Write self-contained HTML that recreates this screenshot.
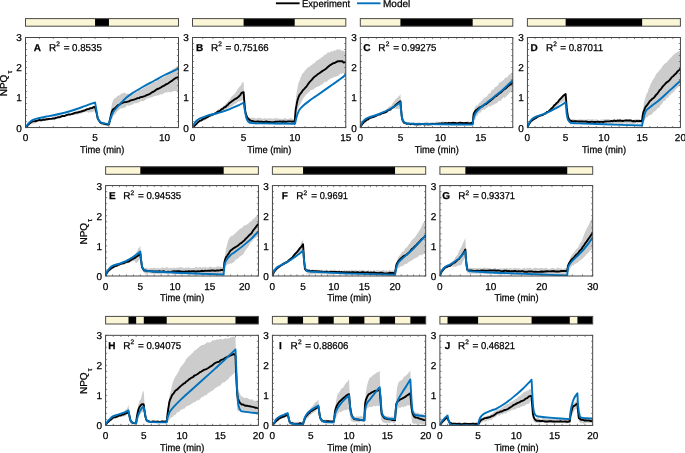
<!DOCTYPE html><html><head><meta charset="utf-8"><style>html,body{margin:0;padding:0;background:#fff;width:685px;height:453px;overflow:hidden}svg{display:block}text{font-family:"Liberation Sans", sans-serif;fill:#000;stroke:#000;stroke-width:0.25px;text-rendering:geometricPrecision}svg{will-change:transform;filter:blur(0.3px)}</style></head><body>
<svg width="685" height="453" viewBox="0 0 685 453">
<rect width="685" height="453" fill="#fff"/>
<line x1="275.9" y1="3.3" x2="299.6" y2="3.3" stroke="#000" stroke-width="1.9"/>
<text x="302.02" y="7" font-size="10" textLength="48.05" lengthAdjust="spacingAndGlyphs">Experiment</text>
<line x1="357" y1="3.3" x2="380.5" y2="3.3" stroke="#0072bd" stroke-width="1.9"/>
<text x="382.97" y="7" font-size="10" textLength="27.4" lengthAdjust="spacingAndGlyphs">Model</text>
<rect x="25.5" y="18.6" width="153" height="7.6" fill="#faf6d6"/>
<rect x="95.05" y="18.6" width="13.91" height="7.6" fill="#000"/>
<rect x="25.5" y="18.6" width="153" height="7.6" fill="none" stroke="#4a4a4a" stroke-width="1"/>
<clipPath id="cA"><rect x="25.5" y="37.5" width="153" height="90.1"/></clipPath>
<g clip-path="url(#cA)">
<path d="M25.5,127.6L26.07,127.66L26.76,126.78L27.56,126.55L28.46,125.63L29.44,124.99L30.49,125.18L31.59,124.6L32.72,122.68L33.87,122.88L35.03,122.28L36.18,120.52L37.3,120.75L38.38,119.71L39.41,119.83L40.4,119.23L41.4,119.66L42.39,118.68L43.38,118.1L44.38,118.43L45.37,117.93L46.36,117.88L47.36,118.65L48.35,117.48L49.34,117.6L50.34,117.89L51.33,118.15L52.32,116.73L53.32,117.13L54.31,116.56L55.31,116.11L56.3,116.15L57.29,115.64L58.29,116.22L59.28,115.4L60.27,115.73L61.27,114.78L62.26,114.65L63.25,115.6L64.25,115.32L65.24,114.97L66.23,113.62L67.23,114.18L68.22,113.66L69.21,113.91L70.21,113.36L71.2,113.3L72.19,113.1L73.19,112.5L74.18,112.25L75.18,111.51L76.17,111.59L77.16,110.95L78.16,110.79L79.15,110.31L80.14,110.51L81.14,110.99L82.16,109.63L83.25,109.15L84.37,108.89L85.52,109.02L86.67,108.43L87.83,108.81L88.96,107.51L90.06,107.53L91.1,107.61L92.09,107.62L92.98,106.13L93.79,105.66L94.48,106.78L95.05,105.98L95.05,105.98L95.72,108.81L96.69,113.97L97.83,118.21L98.71,119.84L99.65,120.51L100.73,121.41L102,123.48L102.91,122.98L103.99,124.07L105.15,123.19L106.31,123.85L107.39,123.05L108.3,122.93L108.95,123.7L108.95,123.7L109.77,117.91L110.93,109.17L112.01,103.86L112.97,100.68L114.38,98.32L115.12,98.46L116.01,97.48L117,96.43L118.06,95.42L119.11,95.46L120.13,95.08L121.06,93.41L122.25,93.83L123.42,92.64L124.52,92.65L125.55,93.45L126.48,93.42L127.79,93.84L128.87,94.44L129.82,95.02L130.45,95.3L132.04,94.38L132.71,93.52L133.51,93.71L134.4,93.28L135.39,92.25L136.44,92.33L137.53,91.56L138.66,89.85L139.79,89.85L140.91,89.13L141.99,89.29L143.03,88.08L144.04,87.27L145.05,87.55L146.06,86.1L147.07,85.53L148.09,85.85L149.1,84.45L150.12,84.16L151.13,83.3L152.14,83.25L153.15,82.18L154.16,81.59L155.18,82.12L156.24,81.5L157.31,80.02L158.39,79.03L159.47,79.54L160.53,78.68L161.56,77.92L162.55,77.79L163.48,77.18L164.35,76.74L165.15,76.14L166.61,74.7L167.77,74.08L168.76,72.93L169.69,71.36L170.71,71.55L171.85,69.84L173.04,68.72L174.19,68.55L175.25,67.96L176.14,66.48L177.66,66.33L178.5,65.43 L178.5,91.26L177.88,90.95L177.05,91.1L176.05,90.98L174.95,90.9L173.81,91.32L172.68,91.18L171.63,92.32L170.71,91.91L169.54,92.39L168.59,91.76L167.66,91.8L166.57,92.87L165.15,92.41L164.35,92.71L163.48,93.63L162.55,93.9L161.56,94.71L160.53,94.08L159.47,94.63L158.39,95.39L157.31,95.4L156.24,95.39L155.18,96.14L154.16,96.06L153.15,96.72L152.14,97.27L151.13,97.56L150.12,97.66L149.1,97.78L148.09,98.81L147.07,98.6L146.06,99.26L145.05,100L144.04,100.68L143.03,101.2L142.03,101.12L141.03,100.97L140.03,101.57L139.03,102.58L138.03,102.62L137.03,103.18L136.03,103.28L135.04,103.29L134.04,103.55L133.04,104.34L132.04,104.75L131.03,105.1L129.98,105.16L128.91,106.11L127.84,105.29L126.77,105.43L125.71,107.13L124.68,107.39L123.69,107.74L122.75,108.23L121.87,108.7L121.06,107.96L119.75,109.25L118.64,110.2L117.67,110.97L116.78,112.33L115.93,113.35L115.07,114.76L114.02,114.99L112.99,116.95L112.03,119.52L111.18,119.83L110.48,121.13L109.43,123.23L108.95,125.2L108.95,125.2L108.3,124.74L107.39,125.69L106.31,124.74L105.15,125.15L103.99,125.57L102.91,125.15L102,124.17L100.73,123.74L99.65,121.97L98.71,121.46L97.83,119.73L96.69,116.54L95.72,112.94L95.05,111.38L95.05,111.38L94.48,111.6L93.79,111.53L92.98,111.44L92.09,112.11L91.1,112.45L90.06,111.74L88.96,113L87.83,112.32L86.67,112L85.52,112.18L84.37,112.32L83.25,112.84L82.16,112.7L81.14,114.17L80.14,113.19L79.15,114.16L78.16,113.89L77.16,114.86L76.17,114.81L75.18,114.84L74.18,115.12L73.19,114.97L72.19,114.95L71.2,114.89L70.21,115.23L69.21,116.21L68.22,115.35L67.23,115.51L66.23,116.48L65.24,115.84L64.25,116.2L63.25,116.29L62.26,117.9L61.27,117.86L60.27,116.91L59.28,117.87L58.29,118.05L57.29,118.24L56.3,118.54L55.31,118.85L54.31,118.26L53.32,119.2L52.32,119.63L51.33,119.48L50.34,118.95L49.34,119.35L48.35,119.26L47.36,120.21L46.36,120.51L45.37,119.7L44.38,119.92L43.38,121.04L42.39,120.75L41.4,121.6L40.4,121.71L39.41,121.67L38.38,121.36L37.3,122.1L36.18,123.02L35.03,123.74L33.87,123.21L32.72,124.34L31.59,124.26L30.49,125.52L29.44,126.03L28.46,126.82L27.56,126.35L26.76,127.13L26.07,127.82L25.5,127.6 Z" fill="#cccccc"/>
<path d="M25.5,127.6L26.02,126.99L26.89,126.38L28.19,124.53L29.67,123.45L31.02,122.47L32.45,121.4L34.15,121.41L35.93,120.99L37.45,120.66L39.41,119.82L40.58,120.21L41.94,120.21L43.41,119.51L44.92,119.9L46.36,119.24L47.64,119.25L48.81,119.04L50.04,118.83L51.48,118.89L53.32,118.37L54.43,118.67L55.65,117.85L56.98,117.7L58.38,117.19L59.84,117.24L61.33,116.38L62.84,115.84L64.33,116.07L65.81,115.49L67.23,114.94L68.62,114.39L70.01,114.47L71.4,114.16L72.79,113.77L74.18,113.16L75.57,112.71L76.96,112.61L78.35,112.26L79.75,111.85L81.14,111.49L82.59,111.01L84.14,110.77L85.75,109.95L87.37,109.09L88.96,108.97L90.48,108.22L91.9,108.17L93.15,107.37L94.22,106.96L95.05,106.88L95.05,106.88L95.89,110.07L96.85,114.07L97.3,116.57L97.83,118.49L98.9,120.27L100.33,122.45L101.5,123.26L102.81,123.37L104.23,123.7L105.92,124.3L107.7,124.53L108.95,124.6L108.95,124.6L109.62,121.06L110.48,117.31L111.2,113.95L112.01,111.3L112.88,109.59L114.38,108.51L115.46,107.7L116.8,106.33L118.27,105.05L119.73,104.52L121.06,103.43L122.5,102.97L123.84,102.23L125.14,102.09L126.48,101.94L127.73,101.56L128.91,101.31L130.27,100.54L132.04,100.05L133.19,99.86L134.54,99.32L136.01,98.92L137.54,98.14L139.07,98.14L140.54,97.09L141.88,97.05L143.03,96.59L144.8,96.11L146.15,95.37L147.33,94.91L148.6,94.52L149.99,93.84L151.39,92.83L152.78,91.86L154.16,91.33L155.52,90.25L156.87,89.24L158.22,88.76L159.58,88.15L160.96,87.46L162.36,86.49L163.75,85.87L165.15,84.92L166.54,84.09L167.94,83.52L169.33,82.53L170.71,81.52L172.15,80.66L173.62,79.38L175,78.45L176.14,77.76L177.66,77.41L178.5,76.84" fill="none" stroke="#000" stroke-width="1.9" stroke-linejoin="round"/>
<path d="M25.5,127.6C25.73,127.25 26.43,126.15 26.89,125.5C27.35,124.85 27.82,124.25 28.28,123.7C28.75,123.15 28.98,122.79 29.67,122.19C30.37,121.59 31.41,120.64 32.45,120.09C33.5,119.54 34.77,119.24 35.93,118.89C37.09,118.54 37.67,118.39 39.41,117.99C41.15,117.59 44.05,116.94 46.36,116.49C48.68,116.04 49.84,116.04 53.32,115.29C56.8,114.54 62.59,113.28 67.23,111.98C71.86,110.68 76.5,109.08 81.14,107.48C85.77,105.88 92.73,103.22 95.05,102.37L95.05,102.37C95.35,104.07 96.39,109.88 96.85,112.58C97.32,115.29 97.25,117.04 97.83,118.59C98.41,120.14 99.26,121.09 100.33,121.89C101.4,122.69 102.79,123.04 104.23,123.4C105.66,123.75 108.17,123.9 108.95,124L108.95,124C109.21,123.09 109.91,120.34 110.48,118.59C111.06,116.84 111.78,114.84 112.43,113.48C113.08,112.13 112.94,112.23 114.38,110.48C115.82,108.73 119.04,105.13 121.06,102.97C123.07,100.82 124.65,99.17 126.48,97.57C128.31,95.96 129.28,95.16 132.04,93.36C134.8,91.56 139.35,88.86 143.03,86.75C146.72,84.65 150.47,82.75 154.16,80.75C157.84,78.75 161.48,76.59 165.15,74.74C168.81,72.89 173.91,70.64 176.14,69.64C178.36,68.63 178.11,68.88 178.5,68.73" fill="none" stroke="#0072bd" stroke-width="1.9" stroke-linejoin="round"/>
</g>
<rect x="25.5" y="37.5" width="153" height="90.1" fill="none" stroke="#333333" stroke-width="0.9"/>
<path d="M25.5,127.6v-1.6M25.5,37.5v1.6M39.41,127.6v-1.6M39.41,37.5v1.6M53.32,127.6v-1.6M53.32,37.5v1.6M67.23,127.6v-1.6M67.23,37.5v1.6M81.14,127.6v-1.6M81.14,37.5v1.6M95.05,127.6v-1.6M95.05,37.5v1.6M108.95,127.6v-1.6M108.95,37.5v1.6M122.86,127.6v-1.6M122.86,37.5v1.6M136.77,127.6v-1.6M136.77,37.5v1.6M150.68,127.6v-1.6M150.68,37.5v1.6M164.59,127.6v-1.6M164.59,37.5v1.6M178.5,127.6v-1.6M178.5,37.5v1.6M25.5,127.6h1.6M178.5,127.6h-1.6M25.5,121.59h1.6M178.5,121.59h-1.6M25.5,115.59h1.6M178.5,115.59h-1.6M25.5,109.58h1.6M178.5,109.58h-1.6M25.5,103.57h1.6M178.5,103.57h-1.6M25.5,97.57h1.6M178.5,97.57h-1.6M25.5,91.56h1.6M178.5,91.56h-1.6M25.5,85.55h1.6M178.5,85.55h-1.6M25.5,79.55h1.6M178.5,79.55h-1.6M25.5,73.54h1.6M178.5,73.54h-1.6M25.5,67.53h1.6M178.5,67.53h-1.6M25.5,61.53h1.6M178.5,61.53h-1.6M25.5,55.52h1.6M178.5,55.52h-1.6M25.5,49.51h1.6M178.5,49.51h-1.6M25.5,43.51h1.6M178.5,43.51h-1.6M25.5,37.5h1.6M178.5,37.5h-1.6" stroke="#555" stroke-width="0.7" fill="none"/>
<text x="25.5" y="141.1" font-size="10" text-anchor="middle">0</text>
<text x="95.05" y="141.1" font-size="10" text-anchor="middle">5</text>
<text x="164.59" y="141.1" font-size="10" text-anchor="middle">10</text>
<text x="21.9" y="131.5" font-size="10" text-anchor="end">0</text>
<text x="21.9" y="101.47" font-size="10" text-anchor="end">1</text>
<text x="21.9" y="71.43" font-size="10" text-anchor="end">2</text>
<text x="21.9" y="41.4" font-size="10" text-anchor="end">3</text>
<text x="80.09" y="153" font-size="10" textLength="44.18" lengthAdjust="spacingAndGlyphs">Time (min)</text>
<text x="33.85" y="50.9" font-size="10" font-weight="bold">A</text>
<text x="48.98" y="50.9" font-size="10">R</text>
<text x="56.37" y="46.4" font-size="6.6">2</text>
<text x="63.71" y="50.9" font-size="10">=</text>
<text x="72.12" y="50.9" font-size="10" textLength="29.69" lengthAdjust="spacingAndGlyphs">0.8535</text>
<g transform="translate(6.7,85.45) rotate(-90)"><text x="0" y="0" font-size="10" text-anchor="middle">NPQ</text><text x="11.9" y="5.0" font-size="7">&#964;</text></g>
<rect x="192.5" y="18.6" width="153.3" height="7.6" fill="#faf6d6"/>
<rect x="243.6" y="18.6" width="51.1" height="7.6" fill="#000"/>
<rect x="192.5" y="18.6" width="153.3" height="7.6" fill="none" stroke="#4a4a4a" stroke-width="1"/>
<clipPath id="cB"><rect x="192.5" y="37.5" width="153.3" height="90.1"/></clipPath>
<g clip-path="url(#cB)">
<path d="M192.5,127.6L193.14,126.34L193.99,126.18L195.01,124.83L196.14,123.11L197.33,122.81L198.52,121.65L199.65,119.59L200.63,119.75L201.65,119.08L202.69,118.26L203.74,117.67L204.79,118.26L205.83,117.35L206.85,116.76L207.83,116.21L208.9,116.05L209.92,114.92L210.91,113.79L211.9,114.05L212.9,113.21L213.92,113.22L214.98,112.32L215.96,111.13L216.97,111.36L218.01,109.58L219.05,108.91L220.1,109.46L221.14,107.48L222.17,107.58L223.16,106.17L224.26,105.19L225.34,104.82L226.4,103.12L227.45,101.98L228.49,100.54L229.55,100.1L230.62,98.09L231.59,96.6L232.6,95.77L233.63,94.66L234.65,93.96L235.65,92.08L236.6,91.02L237.49,89.29L238.29,88.29L239.67,86.55L240.85,85.45L241.81,83.36L242.58,82.35L243.36,82.36L243.6,81.95L243.6,81.95L244.21,93.11L245.13,106.34L246.12,113.04L247.69,114.94L248.1,116.93L248.18,117.2L248.36,116.98L249.07,117.42L250.75,117.69L253.82,117.77L254.44,118.09L255.13,118.34L255.88,118.58L256.68,118.77L257.55,117.83L258.46,117.8L259.42,118.14L260.43,117.87L261.47,118.47L262.55,118.63L263.67,118.48L264.82,117.76L265.99,119.03L267.19,118.35L268.4,118.75L269.63,117.98L270.88,118.62L272.13,118.67L273.38,118.57L274.64,118.38L275.9,118.04L277.15,118.68L278.39,117.95L279.62,119.06L280.84,118.83L282.03,119.1L283.2,119.09L284.35,118.09L285.46,118.18L286.54,119L287.58,119L288.58,118.66L289.54,118.18L290.45,118.08L291.31,118.18L292.11,118.42L292.86,119.1L293.54,118.73L294.15,119.04L294.7,118.59L294.7,118.59L295.08,110.48L295.72,100.47L296.56,93L297.77,85.93L298.63,82.2L299.64,80.72L300.71,77.25L301.75,75.05L302.72,73.21L303.68,72.61L304.67,71.08L305.74,69.81L306.68,68.79L307.67,67.42L308.7,67.04L309.73,66.83L310.75,65.19L311.73,64.96L312.71,64L313.69,63.03L314.66,63.35L315.65,61.42L316.65,60.8L317.65,60.26L318.65,59.43L319.66,58.74L320.66,58.38L321.66,57.12L322.67,57.1L323.67,55.66L324.67,54.74L325.67,54.4L326.65,53.66L327.63,52.57L328.61,52.21L329.59,52.91L330.57,51.48L331.57,51.25L332.56,51.61L333.56,50.68L334.57,50.48L335.58,50.45L336.6,49.63L337.62,49.03L338.64,50.01L339.67,49.34L340.69,49.82L341.79,51L342.98,50.39L344.12,51.29L345.11,51.26L345.8,52.22 L345.8,73.24L345.04,73.85L343.95,73.75L342.67,73.12L341.3,74.13L340.34,73.27L339.3,74.67L338.21,75.82L337.08,76.06L335.96,76.79L334.86,76.79L333.79,77.07L332.71,78.23L331.64,78.07L330.56,78.53L329.49,79.39L328.43,79.63L327.37,81.14L326.31,81.99L325.26,81.78L324.21,82.33L323.15,83.44L322.09,84.77L321.02,84.39L319.95,85.88L318.88,86.04L317.8,86.85L316.73,87.01L315.65,87.8L314.58,88.19L313.5,89.52L312.43,89.86L311.35,90.09L310.28,90.3L309.21,91.97L308.14,92.72L307.05,93.97L305.96,94.42L304.89,96.35L303.86,97.38L302.88,99.02L301.71,101.01L300.55,104.11L299.46,105.26L298.51,107.69L297.77,109.83L297.06,111.17L296.74,113.16L295.66,117.95L294.7,124L294.7,124L294.15,124.31L293.54,124.62L292.85,123.33L292.11,123.84L291.3,124.3L290.44,124.7L289.53,123.35L288.57,123.38L287.56,123.56L286.52,124.05L285.43,123.31L284.31,124.47L283.17,123.43L281.99,123.8L280.79,124.71L279.57,124.74L278.34,124.54L277.09,124.66L275.84,124.75L274.58,124.8L273.32,123.92L272.06,123.35L270.8,123.79L269.56,124.67L268.33,124.3L267.11,123.87L265.91,123.59L264.74,124.41L263.6,124.44L262.48,124.36L261.4,123.41L260.36,124.11L259.36,123.62L258.4,124.38L257.5,123.7L256.64,124.71L255.84,124.59L255.11,124.25L254.43,123.82L253.82,124.5L250.48,123.97L249.1,124.48L248.89,124.18L249.03,122.82L248.71,123.81L247.5,122.54L246.51,121.42L245.64,119.26L244.43,108.69L243.6,99.97L243.6,99.97L242.91,100.25L241.97,100.37L240.84,101.26L239.58,101.58L238.29,101.49L237.44,102.44L236.53,103.09L235.57,103.86L234.59,104.33L233.58,104.69L232.58,105.75L231.59,106.38L230.62,107.03L229.55,107.32L228.49,108.46L227.45,108.16L226.4,109.66L225.34,110.6L224.26,110.89L223.16,110.94L222.17,111.56L221.14,112.31L220.1,112.82L219.05,112.78L218.01,112.99L216.97,114.55L215.96,114.68L214.98,114.6L213.92,115.54L212.9,116.25L211.9,116.19L210.91,116.98L209.92,117.26L208.9,117.49L207.83,118.29L206.85,119.25L205.83,119.64L204.79,120.28L203.74,120.8L202.69,121.18L201.65,121.12L200.63,121.24L199.65,122.29L198.52,122.39L197.33,123.14L196.14,124.23L195.01,125.82L193.99,126.05L193.14,126.77L192.5,127.6 Z" fill="#cccccc"/>
<path d="M192.5,127.6L193.2,126.72L194.54,125.68L195.54,124.85L196.74,123.61L198.12,122.03L199.65,120.93L200.79,120.66L202.05,119.84L203.37,118.67L204.73,118.57L206.1,117.69L207.42,117.15L208.72,116.24L210.01,115.73L211.31,114.97L212.61,114.5L213.9,114.09L215.19,113.42L216.47,112.79L217.75,111.56L219.02,111.36L220.29,110.68L221.57,109.2L222.85,108.9L224.14,107.44L225.44,106.98L226.74,105.61L228.04,104.67L229.33,103.15L230.62,102.29L231.96,101.3L233.35,100.25L234.75,99.23L236.08,98.71L237.28,97.68L238.29,97.01L240.16,95.18L241.35,93.12L242.67,92.47L243.6,92.16L243.6,92.16L244.27,100.96L245.24,111.29L246.31,115.54L247.59,118.02L248.93,119.38L250.75,120.7L251.82,120.91L252.93,121.14L254.49,121.69L256.89,121.56L257.93,121.48L259.1,121.76L260.37,121.64L261.73,121.71L263.17,122.02L264.68,121.95L266.23,121.5L267.83,121.99L269.44,121.93L271.06,122.19L272.67,122.1L274.26,122.13L275.58,121.58L276.99,121.72L278.48,121.6L280.02,121.5L281.6,121.75L283.2,121.49L284.78,121.75L286.34,121.81L287.85,121.4L289.29,121.4L290.64,121.34L291.87,121.66L292.97,121.43L293.92,121.67L294.7,121.59L294.7,121.59L294.92,118.61L295.21,115.28L295.45,112.62L295.72,109.27L296.03,107.71L296.44,105.67L297.03,102.23L297.77,99.52L298.56,97.01L299.61,94.76L301.12,92.92L302.88,90.18L304.09,89.14L305.36,87.68L306.66,86.27L307.97,84.26L309.31,82.39L310.75,80.9L311.91,79.69L313.14,78.19L314.4,76.83L315.65,75.95L316.9,75.01L318.15,73.88L319.4,73.26L320.66,72.3L321.91,71.38L323.17,70.47L324.42,69.82L325.67,68.98L326.9,67.86L328.12,66.72L329.34,65.68L330.57,64.8L331.81,64.2L333.06,63.22L334.32,63.08L335.58,62.45L336.9,61.65L338.27,61.23L339.57,61.24L340.69,61.11L342.3,61.23L343.55,62.48L344.85,62.32L345.8,61.83" fill="none" stroke="#000" stroke-width="1.9" stroke-linejoin="round"/>
<path d="M192.5,127.6C192.76,127 193.35,125.15 194.03,124C194.71,122.84 195.65,121.59 196.59,120.69C197.52,119.79 197.85,119.44 199.65,118.59C201.46,117.74 204.83,116.39 207.42,115.59C210.01,114.79 212.62,114.44 215.19,113.78C217.76,113.13 220.28,112.53 222.85,111.68C225.43,110.83 228.05,109.73 230.62,108.68C233.19,107.63 236.12,106.38 238.29,105.38C240.45,104.37 242.71,103.12 243.6,102.67L243.6,102.67C243.87,104.32 244.72,109.93 245.24,112.58C245.75,115.24 246.09,117.04 246.67,118.59C247.25,120.14 247.69,121.14 248.71,121.89C249.73,122.64 250.24,122.84 252.8,123.09C255.35,123.35 257.06,123.3 264.04,123.4C271.02,123.5 289.59,123.65 294.7,123.7L294.7,123.7C294.77,123.65 294.82,124.45 295.11,123.4C295.4,122.34 295.99,119.04 296.44,117.39C296.88,115.74 297.24,114.79 297.77,113.48C298.29,112.18 298.75,110.83 299.61,109.58C300.46,108.33 301.27,107.43 302.88,105.98C304.48,104.52 307.08,102.47 309.21,100.87C311.34,99.27 313.5,97.87 315.65,96.37C317.8,94.86 319.96,93.36 322.09,91.86C324.22,90.36 326.3,88.86 328.43,87.36C330.56,85.85 332.72,84.35 334.86,82.85C337.01,81.35 339.48,79.75 341.3,78.35C343.13,76.94 345.05,75.09 345.8,74.44" fill="none" stroke="#0072bd" stroke-width="1.9" stroke-linejoin="round"/>
</g>
<rect x="192.5" y="37.5" width="153.3" height="90.1" fill="none" stroke="#333333" stroke-width="0.9"/>
<path d="M192.5,127.6v-1.6M192.5,37.5v1.6M202.72,127.6v-1.6M202.72,37.5v1.6M212.94,127.6v-1.6M212.94,37.5v1.6M223.16,127.6v-1.6M223.16,37.5v1.6M233.38,127.6v-1.6M233.38,37.5v1.6M243.6,127.6v-1.6M243.6,37.5v1.6M253.82,127.6v-1.6M253.82,37.5v1.6M264.04,127.6v-1.6M264.04,37.5v1.6M274.26,127.6v-1.6M274.26,37.5v1.6M284.48,127.6v-1.6M284.48,37.5v1.6M294.7,127.6v-1.6M294.7,37.5v1.6M304.92,127.6v-1.6M304.92,37.5v1.6M315.14,127.6v-1.6M315.14,37.5v1.6M325.36,127.6v-1.6M325.36,37.5v1.6M335.58,127.6v-1.6M335.58,37.5v1.6M345.8,127.6v-1.6M345.8,37.5v1.6M192.5,127.6h1.6M345.8,127.6h-1.6M192.5,121.59h1.6M345.8,121.59h-1.6M192.5,115.59h1.6M345.8,115.59h-1.6M192.5,109.58h1.6M345.8,109.58h-1.6M192.5,103.57h1.6M345.8,103.57h-1.6M192.5,97.57h1.6M345.8,97.57h-1.6M192.5,91.56h1.6M345.8,91.56h-1.6M192.5,85.55h1.6M345.8,85.55h-1.6M192.5,79.55h1.6M345.8,79.55h-1.6M192.5,73.54h1.6M345.8,73.54h-1.6M192.5,67.53h1.6M345.8,67.53h-1.6M192.5,61.53h1.6M345.8,61.53h-1.6M192.5,55.52h1.6M345.8,55.52h-1.6M192.5,49.51h1.6M345.8,49.51h-1.6M192.5,43.51h1.6M345.8,43.51h-1.6M192.5,37.5h1.6M345.8,37.5h-1.6" stroke="#555" stroke-width="0.7" fill="none"/>
<text x="192.5" y="141.1" font-size="10" text-anchor="middle">0</text>
<text x="243.6" y="141.1" font-size="10" text-anchor="middle">5</text>
<text x="294.7" y="141.1" font-size="10" text-anchor="middle">10</text>
<text x="345.8" y="141.1" font-size="10" text-anchor="middle">15</text>
<text x="188.9" y="131.5" font-size="10" text-anchor="end">0</text>
<text x="188.9" y="101.47" font-size="10" text-anchor="end">1</text>
<text x="188.9" y="71.43" font-size="10" text-anchor="end">2</text>
<text x="188.9" y="41.4" font-size="10" text-anchor="end">3</text>
<text x="247.24" y="153" font-size="10" textLength="44.18" lengthAdjust="spacingAndGlyphs">Time (min)</text>
<text x="195.93" y="50.9" font-size="10" font-weight="bold">B</text>
<text x="210.88" y="50.9" font-size="10">R</text>
<text x="218.27" y="46.4" font-size="6.6">2</text>
<text x="225.51" y="50.9" font-size="10">=</text>
<text x="233.93" y="50.9" font-size="10" textLength="34.7" lengthAdjust="spacingAndGlyphs">0.75166</text>
<rect x="360.3" y="18.6" width="152.5" height="7.6" fill="#faf6d6"/>
<rect x="400.43" y="18.6" width="72.24" height="7.6" fill="#000"/>
<rect x="360.3" y="18.6" width="152.5" height="7.6" fill="none" stroke="#4a4a4a" stroke-width="1"/>
<clipPath id="cC"><rect x="360.3" y="37.5" width="152.5" height="90.1"/></clipPath>
<g clip-path="url(#cC)">
<path d="M360.3,127.6L360.92,126.82L361.74,125.8L362.72,125.15L363.81,124L364.96,122.41L366.13,120.27L367.27,119.57L368.33,117.87L369.33,117.45L370.33,116.6L371.34,117.55L372.34,116.94L373.34,116.85L374.35,115.88L375.35,115.66L376.35,115.66L377.36,114.47L378.36,114.72L379.36,113.97L380.37,113.64L381.37,112.35L382.37,112.42L383.38,112.09L384.38,111.77L385.41,110.43L386.48,109.28L387.57,108.28L388.64,106.95L389.69,106.13L390.68,106.01L391.59,105.26L392.41,103.49L393.69,101.94L394.66,100.99L395.51,99.22L396.42,98.39L397.52,97.5L398.68,96.37L399.71,95.48L400.43,93.96L400.43,93.96L401.03,103.34L402.04,113.49L402.84,117.15L403.82,120.07L405.25,121.34L405.82,121.47L406.18,121.99L406.55,122.51L407.14,122.89L408.18,122.76L409.89,123.28L412.47,123.27L413.1,122.52L413.78,122.06L414.51,122.72L415.28,122.92L416.1,122.99L416.96,122.82L417.85,122.28L418.79,122.79L419.75,122.01L420.75,123.19L421.77,122.92L422.82,122.58L423.89,122.72L424.98,122.03L426.08,122.03L427.2,121.84L428.34,122.29L429.48,123.12L430.63,122.27L431.78,122.27L432.93,122.33L434.08,122.61L435.23,121.93L436.37,121.59L437.5,122.77L438.62,121.88L439.73,122.3L440.82,122.05L441.89,121.45L442.93,121.32L443.95,121.77L444.95,122.42L445.91,121.31L446.84,122.4L447.73,122.08L448.59,121.4L449.84,122.15L451.09,122.21L452.34,121.17L453.58,121.18L454.81,122.11L456.02,121.99L457.22,122.16L458.4,122.38L459.56,122.2L460.7,121.11L461.81,122.46L462.89,122.24L463.94,122.29L464.95,122.48L465.93,121.81L466.87,121.5L467.77,121.36L468.62,121.68L469.43,121.4L470.19,122.63L470.89,122.21L471.54,121.2L472.14,122.54L472.67,121.89L472.67,121.89L473.38,115.47L474.67,107.8L475.39,106.66L476.2,105.37L477.12,105.53L478.16,104.63L479.33,102.59L480.15,102.99L481.06,100.94L482.03,101.06L483.04,98.82L484.07,98.25L485.11,97.25L486.13,96.99L487.12,96.13L488.21,93.99L489.3,93.79L490.39,92.71L491.47,90.69L492.56,89.55L493.64,89.72L494.74,87.26L495.71,86.93L496.67,86.15L497.65,85.53L498.62,84.09L499.59,82.18L500.57,82.27L501.55,81.56L502.53,80.68L503.54,79.89L504.62,78.74L505.71,77.12L506.8,77.65L507.84,76.8L508.81,75.06L509.67,74.44L510.39,74.02L512.09,74.33L512.8,73.84 L512.8,90.96L512.18,91.56L511.36,92.31L510.39,92.31L509.31,93.04L508.15,94.64L506.95,95.47L505.75,97.09L504.59,97.89L503.5,97.31L502.53,98.39L501.43,99.66L500.4,100.97L499.42,100.79L498.47,101.05L497.54,103.03L496.62,103.14L495.69,103.39L494.74,103.98L493.64,104.8L492.56,105.1L491.47,105.64L490.39,106.15L489.3,106.65L488.21,106.11L487.12,107.92L486.12,108.01L485.09,109.19L484.04,109.86L482.99,109.88L481.97,110.36L481,112.12L480.12,112.76L479.33,112.6L478.07,114.59L477.09,116.05L476.28,116.62L475.48,119.16L474.36,120.59L473.36,123.32L472.67,124.9L472.67,124.9L472.13,124.28L471.55,124.39L470.92,124.4L470.25,124.54L469.53,124.85L468.77,124.27L467.97,124.84L467.13,125.61L466.26,125.23L465.35,125.17L464.41,125.53L463.44,125.45L462.43,124.74L461.4,125.1L460.34,125.33L459.26,125.44L458.15,124.79L457.02,124.35L455.88,124.69L454.71,125.11L453.53,125.07L452.33,124.92L451.11,125.22L449.89,125.13L448.66,124.61L447.41,124.38L446.16,125.03L444.91,124.36L443.65,124.86L442.39,125.36L441.13,125.14L439.87,124.21L438.62,125.11L437.37,124.41L436.12,125.6L434.88,124.52L433.66,124.42L432.44,125.05L431.24,125.59L430.05,124.76L428.88,125.03L427.73,124.9L426.59,124.21L425.48,124.38L424.39,124.89L423.33,124.97L422.29,125.01L421.28,124.23L420.3,125.26L419.35,124.71L418.43,125.17L417.55,124.58L416.7,124.92L415.89,125.48L415.12,125.26L414.39,124.19L413.71,125.23L413.07,124.4L412.47,124.35L408.62,124.22L406.43,124.15L405.46,124.72L405.28,125.05L405.47,125.02L405.61,124.77L405.25,124.29L403.82,123.68L402.84,121.99L402.04,120.62L401.03,114.36L400.43,108.98L400.43,108.98L399.81,108.94L398.99,109.62L398.01,108.62L396.92,109L395.77,108.81L394.6,108.45L393.46,108.9L392.41,109.02L391.4,110.65L390.4,110.92L389.4,110.28L388.39,111.52L387.39,111.22L386.39,113.17L385.38,113.46L384.38,113.84L383.38,114.4L382.37,113.78L381.37,113.97L380.37,115.5L379.36,114.86L378.36,115.09L377.36,115.96L376.35,116.94L375.35,116.36L374.35,117.14L373.34,117.59L372.34,117.78L371.34,118.26L370.33,118.54L369.33,118.74L368.33,119.42L367.27,120.84L366.13,122.33L364.96,123.01L363.81,123.6L362.72,125.07L361.74,125.41L360.92,127.19L360.3,127.6 Z" fill="#cccccc"/>
<path d="M360.3,127.6L360.95,126.23L361.91,124.32L362.96,123.29L364.31,121.67L365.38,120.99L366.63,119.72L368.33,119.23L369.43,118.06L370.7,117.81L372.09,117.2L373.53,116.99L374.97,116.32L376.35,115.61L377.69,114.83L379.03,114.6L380.37,114.33L381.7,113.36L383.04,113.07L384.38,112.56L385.72,112.12L387.05,111.33L388.39,110.12L389.73,109.84L391.07,108.68L392.41,107.69L393.84,106.81L395.38,105.27L396.92,103.88L398.35,102.69L399.56,101.74L400.43,101.17L400.43,101.17L400.99,108.25L401.72,115.9L402.27,119.09L403,121.13L404.08,122.71L405.65,123.13L406.57,123.88L407.57,123.59L408.91,123.59L410.87,124.27L411.91,123.74L413.15,124.16L414.52,124.33L415.99,124.39L417.51,124.54L419.05,124.23L420.56,124.34L422.01,124.03L423.34,124.05L424.51,124.62L426.08,124.36L427.3,124.34L428.37,124.45L429.47,124.34L430.8,124.26L432.54,123.86L433.6,124.05L434.76,124.15L436,123.99L437.32,123.75L438.7,123.57L440.11,123.71L441.55,123.29L443,123.56L444.44,123.15L445.87,123.12L447.25,123.37L448.59,122.91L450.03,123.14L451.5,123.01L452.98,122.95L454.46,122.92L455.94,123.06L457.39,123.34L458.8,122.83L460.17,122.79L461.47,123.07L462.7,123.02L463.84,123.26L465.78,122.84L467.59,123.05L469.21,123.45L470.62,123.08L471.78,123.01L472.67,123.4L472.67,123.4L472.99,119.85L473.47,115.23L473.83,113.4L474.67,111.91L475.86,110.25L477.42,109.24L479.33,107.61L480.45,107.02L481.7,106.67L483.04,105.66L484.42,104.68L485.79,104.15L487.12,103.24L488.65,101.86L490.17,100.9L491.69,99.56L493.21,98.18L494.74,96.73L496,96.19L497.23,95.32L498.47,93.91L499.74,93.09L501.08,92.24L502.53,90.68L503.95,89.53L505.58,88.46L507.29,86.73L508.99,85.45L510.54,84.23L511.85,83.48L512.8,82.55" fill="none" stroke="#000" stroke-width="1.9" stroke-linejoin="round"/>
<path d="M360.3,127.6C360.5,127 360.9,125.2 361.5,124C362.11,122.79 362.77,121.44 363.91,120.39C365.05,119.34 366.25,118.59 368.33,117.69C370.4,116.79 373.68,115.99 376.35,114.99C379.03,113.98 381.7,112.88 384.38,111.68C387.05,110.48 389.73,109.33 392.41,107.78C395.08,106.23 399.09,103.27 400.43,102.37L400.43,102.37C400.65,104.72 401.29,113.38 401.72,116.49C402.14,119.59 402.34,119.89 403,120.99C403.66,122.09 404.34,122.64 405.65,123.09C406.96,123.55 407.72,123.55 410.87,123.7C414.01,123.85 419.56,123.9 424.51,124C429.46,124.1 432.54,124.2 440.56,124.3C448.59,124.4 467.32,124.55 472.67,124.6L472.67,124.6C472.8,123.6 473,120.49 473.47,118.59C473.94,116.69 474.5,114.84 475.48,113.18C476.45,111.53 477.39,110.48 479.33,108.68C481.27,106.88 484.55,104.42 487.12,102.37C489.68,100.32 492.17,98.42 494.74,96.37C497.31,94.31 499.52,92.76 502.53,90.06C505.54,87.36 511.09,81.8 512.8,80.15" fill="none" stroke="#0072bd" stroke-width="1.9" stroke-linejoin="round"/>
</g>
<rect x="360.3" y="37.5" width="152.5" height="90.1" fill="none" stroke="#333333" stroke-width="0.9"/>
<path d="M360.3,127.6v-1.6M360.3,37.5v1.6M368.33,127.6v-1.6M368.33,37.5v1.6M376.35,127.6v-1.6M376.35,37.5v1.6M384.38,127.6v-1.6M384.38,37.5v1.6M392.41,127.6v-1.6M392.41,37.5v1.6M400.43,127.6v-1.6M400.43,37.5v1.6M408.46,127.6v-1.6M408.46,37.5v1.6M416.48,127.6v-1.6M416.48,37.5v1.6M424.51,127.6v-1.6M424.51,37.5v1.6M432.54,127.6v-1.6M432.54,37.5v1.6M440.56,127.6v-1.6M440.56,37.5v1.6M448.59,127.6v-1.6M448.59,37.5v1.6M456.62,127.6v-1.6M456.62,37.5v1.6M464.64,127.6v-1.6M464.64,37.5v1.6M472.67,127.6v-1.6M472.67,37.5v1.6M480.69,127.6v-1.6M480.69,37.5v1.6M488.72,127.6v-1.6M488.72,37.5v1.6M496.75,127.6v-1.6M496.75,37.5v1.6M504.77,127.6v-1.6M504.77,37.5v1.6M512.8,127.6v-1.6M512.8,37.5v1.6M360.3,127.6h1.6M512.8,127.6h-1.6M360.3,121.59h1.6M512.8,121.59h-1.6M360.3,115.59h1.6M512.8,115.59h-1.6M360.3,109.58h1.6M512.8,109.58h-1.6M360.3,103.57h1.6M512.8,103.57h-1.6M360.3,97.57h1.6M512.8,97.57h-1.6M360.3,91.56h1.6M512.8,91.56h-1.6M360.3,85.55h1.6M512.8,85.55h-1.6M360.3,79.55h1.6M512.8,79.55h-1.6M360.3,73.54h1.6M512.8,73.54h-1.6M360.3,67.53h1.6M512.8,67.53h-1.6M360.3,61.53h1.6M512.8,61.53h-1.6M360.3,55.52h1.6M512.8,55.52h-1.6M360.3,49.51h1.6M512.8,49.51h-1.6M360.3,43.51h1.6M512.8,43.51h-1.6M360.3,37.5h1.6M512.8,37.5h-1.6" stroke="#555" stroke-width="0.7" fill="none"/>
<text x="360.3" y="141.1" font-size="10" text-anchor="middle">0</text>
<text x="400.43" y="141.1" font-size="10" text-anchor="middle">5</text>
<text x="440.56" y="141.1" font-size="10" text-anchor="middle">10</text>
<text x="480.69" y="141.1" font-size="10" text-anchor="middle">15</text>
<text x="356.7" y="131.5" font-size="10" text-anchor="end">0</text>
<text x="356.7" y="101.47" font-size="10" text-anchor="end">1</text>
<text x="356.7" y="71.43" font-size="10" text-anchor="end">2</text>
<text x="356.7" y="41.4" font-size="10" text-anchor="end">3</text>
<text x="414.64" y="153" font-size="10" textLength="44.18" lengthAdjust="spacingAndGlyphs">Time (min)</text>
<text x="363.29" y="50.9" font-size="10" font-weight="bold">C</text>
<text x="378.28" y="50.9" font-size="10">R</text>
<text x="385.67" y="46.4" font-size="6.6">2</text>
<text x="393.21" y="50.9" font-size="10">=</text>
<text x="401.62" y="50.9" font-size="10" textLength="34.78" lengthAdjust="spacingAndGlyphs">0.99275</text>
<rect x="527.4" y="18.6" width="153" height="7.6" fill="#faf6d6"/>
<rect x="565.65" y="18.6" width="76.5" height="7.6" fill="#000"/>
<rect x="527.4" y="18.6" width="153" height="7.6" fill="none" stroke="#4a4a4a" stroke-width="1"/>
<clipPath id="cD"><rect x="527.4" y="37.5" width="153" height="90.1"/></clipPath>
<g clip-path="url(#cD)">
<path d="M527.4,127.6L527.99,127.5L528.77,125.34L529.71,123.88L530.75,122.94L531.85,121.21L532.96,119.62L534.04,118.79L535.05,117.09L536.01,116.54L536.96,116.22L537.92,116.19L538.88,115.17L539.83,115.2L540.79,114.28L541.74,114.74L542.7,113.94L543.66,113.72L544.61,112.89L545.57,112.11L546.52,112.27L547.48,111.77L548.44,110.49L549.39,110.21L550.35,108.97L551.33,108.57L552.35,107.64L553.39,105.86L554.41,104.12L555.41,103.04L556.36,102.46L557.23,101.61L558,101.22L559.23,99.48L560.15,98.28L560.96,96.35L561.82,96.64L562.87,94.4L563.98,94.17L564.96,93.43L565.65,92.76L565.65,92.76L566.22,101.81L567.18,110.39L567.94,115.1L568.88,116.87L570.24,118.57L570.51,119.53L570.23,119.78L569.87,118.77L569.91,119.1L570.81,119.16L573.06,118.88L577.12,120.09L577.71,119.19L578.34,119.12L579,119.91L579.71,119.57L580.46,118.79L581.24,119.77L582.06,119.11L582.92,120.01L583.8,119.26L584.72,119.85L585.67,119.49L586.65,119.7L587.65,118.95L588.68,119.13L589.74,119.49L590.82,119.21L591.92,119.6L593.04,119.03L594.18,119.84L595.33,119.41L596.51,119.34L597.69,119.63L598.9,120.14L600.11,119.95L601.33,119.24L602.56,119.87L603.8,119.05L605.05,119.42L606.3,118.74L607.55,118.89L608.81,119.06L610.07,119.59L611.32,120.07L612.58,119.3L613.83,119L615.07,118.73L616.31,119.8L617.54,119.86L618.76,118.62L619.97,118.97L621.17,119.35L622.36,118.96L623.53,119.84L624.68,119.24L625.82,119.04L626.93,119.13L628.03,119.79L629.1,119.82L630.15,119.08L631.18,118.68L632.18,119.8L633.15,119.99L634.09,119.87L635.01,118.8L635.89,119.39L636.74,119.29L637.55,118.48L638.33,119.05L639.07,119.56L639.77,118.9L640.43,119.95L641.04,119.52L641.62,118.89L642.15,119.19L642.15,119.19L642.54,112.93L643.68,104.28L644.43,100.73L645.38,98.06L646.45,94.1L647.57,92.49L648.66,88.72L649.65,86.92L650.71,83.82L651.71,82.23L652.68,80.01L653.64,78.78L654.62,77.26L655.61,75.33L656.61,73.37L657.6,72.72L658.6,71.62L659.59,70.06L660.59,69.27L661.58,67.7L662.58,66.11L663.57,64.99L664.56,63.78L665.56,63.16L666.55,62.51L667.55,61.49L668.54,60.03L669.54,59.28L670.52,57.78L671.48,57.33L672.45,55.7L673.46,55.06L674.51,54.07L675.51,53.16L676.62,52.62L677.77,51.89L678.84,51.27L679.75,50.96L680.4,49.81 L680.4,84.65L679.75,85.62L678.84,86.23L677.77,87.49L676.62,88.41L675.51,89.58L674.51,91.09L673.46,92.04L672.45,93.03L671.48,93.18L670.52,95.18L669.54,95.11L668.54,97.14L667.55,98.04L666.55,97.99L665.56,100.16L664.56,100.9L663.57,101L662.58,103.12L661.58,104.48L660.59,104.76L659.59,107.3L658.6,107.99L657.6,107.97L656.61,109.65L655.61,110.76L654.62,111.5L653.61,111.79L652.58,113.59L651.56,114.55L650.58,114.93L649.65,114.98L648.57,115.84L647.57,117.34L646.61,117.05L645.67,118.45L644.33,120.89L643.05,121.69L642.15,123.7L642.15,123.7L641.62,123.28L641.04,124.24L640.43,122.98L639.77,123.38L639.07,123.25L638.33,123.11L637.55,124.16L636.74,123.07L635.89,123.38L635.01,123.48L634.09,123.86L633.15,124.15L632.18,123.8L631.18,123.7L630.15,123.88L629.1,123.74L628.03,123.3L626.93,124.3L625.82,123.36L624.68,123.49L623.53,123.55L622.36,124.16L621.17,124.12L619.97,124.13L618.76,124.05L617.54,123.37L616.31,123.92L615.07,123.33L613.83,123.36L612.58,124.4L611.32,123.82L610.07,123.95L608.81,123.62L607.55,123.14L606.3,124.08L605.05,123.71L603.8,124.2L602.56,124.32L601.33,124.2L600.11,124.11L598.9,123.55L597.69,123.59L596.51,124.11L595.33,124.38L594.18,123.96L593.04,124.16L591.92,123.75L590.82,123.03L589.74,123.35L588.68,123.49L587.65,123.93L586.65,124.08L585.67,123.75L584.72,124.08L583.8,123.35L582.92,124L582.06,124.42L581.24,123.55L580.46,123.76L579.71,123.87L579,123.61L578.34,123.38L577.71,123.82L577.12,123.06L573.06,123.44L570.81,124.41L569.91,124.57L569.87,123.16L570.23,123.8L570.51,123.42L570.24,124.02L568.88,122.44L567.94,121.37L567.18,118.19L566.22,108.93L565.65,99.97L565.65,99.97L565.06,99.98L564.28,101.47L563.34,101.89L562.3,101.39L561.2,103.49L560.09,102.86L559.01,104.93L558,104.89L557.04,106.43L556.09,107.05L555.13,107.98L554.17,108.66L553.22,109.85L552.26,110.18L551.31,111.94L550.35,111.37L549.39,112.04L548.44,112.8L547.48,114.32L546.52,114.03L545.57,115.11L544.61,114.89L543.66,114.52L542.7,115.97L541.74,116.03L540.79,116.38L539.83,117.29L538.88,116.34L537.92,117.69L536.96,118.45L536.01,117.76L535.05,119.75L534.04,120.16L532.96,120.97L531.85,122.24L530.75,122.98L529.71,125.45L528.77,125.98L527.99,126.48L527.4,127.6 Z" fill="#cccccc"/>
<path d="M527.4,127.6L527.81,126.42L528.55,124.88L529.72,122.93L531.23,120.76L532.27,120.32L533.45,119.38L535.05,118.5L536.11,118L537.35,116.84L538.68,116.29L540.06,115.67L541.42,115.29L542.7,114.96L544.16,113.95L545.62,113.4L547.03,111.94L548.37,111.54L549.58,110.63L551.31,108.57L552.79,107.45L554.17,105.37L555.51,104.47L556.75,102.97L558,102.05L559.27,99.98L560.55,98.77L561.82,97.38L563.24,95.84L564.66,94.71L565.65,93.96L565.65,93.96L566.1,100.17L566.72,107.45L567.31,112.36L568.02,116.83L568.6,118.7L570.01,120.5L570.84,120.96L571.76,121.05L572.83,121.33L574.16,121.26L575.81,121.16L577.89,121.36L578.94,121.47L580.08,121.56L581.32,121.48L582.63,121.34L584.01,121.65L585.45,121.47L586.94,121.74L588.46,122.05L590.01,122.06L591.58,121.61L593.15,121.9L594.71,121.99L596.26,121.9L597.78,121.64L599.1,121.95L600.44,121.92L601.8,121.85L603.16,122.03L604.54,121.56L605.93,121.51L607.33,121.4L608.73,121.33L610.14,121.21L611.54,120.93L612.96,121.22L614.36,120.56L615.77,121.11L617.18,120.5L618.57,120.96L619.96,120.48L621.39,120.85L622.89,120.99L624.44,120.67L626.03,120.49L627.64,120.52L629.26,120.54L630.87,120.52L632.44,121.24L633.98,121.06L635.46,121.32L636.86,120.91L638.16,121.18L639.36,121.02L640.44,121.02L641.37,120.91L642.15,121.29L642.15,121.29L642.29,118.74L642.69,115.32L643.4,112.19L644.67,108.98L645.71,106.56L646.97,105.24L648.33,103.41L649.65,101.23L650.89,100.29L652.13,98.88L653.38,98.23L654.62,96.87L655.86,95.09L657.11,94.07L658.35,92.18L659.59,90.34L660.84,89.34L662.08,87.43L663.32,85.89L664.56,84.57L665.81,83.18L667.05,82.05L668.29,81.39L669.54,80.07L670.76,78.59L671.97,77.03L673.2,76.29L674.51,74.68L676.06,73.43L677.77,71.17L679.32,69.87L680.4,68.73" fill="none" stroke="#000" stroke-width="1.9" stroke-linejoin="round"/>
<path d="M527.4,127.6C527.55,127.1 527.68,125.9 528.32,124.6C528.96,123.3 530.1,121.04 531.23,119.79C532.35,118.54 533.14,117.99 535.05,117.09C536.96,116.19 540.15,115.39 542.7,114.39C545.25,113.38 547.8,112.28 550.35,111.08C552.9,109.88 555.45,108.63 558,107.18C560.55,105.73 564.38,103.17 565.65,102.37L565.65,102.37C565.83,104.27 566.33,110.88 566.72,113.78C567.12,116.69 567.36,118.29 568.02,119.79C568.68,121.29 569.05,122.19 570.7,122.79C572.34,123.4 572.36,123.15 577.89,123.4C583.42,123.65 593.19,123.95 603.9,124.3C614.61,124.65 635.77,125.3 642.15,125.5L642.15,125.5C642.34,124.5 642.71,121.84 643.3,119.49C643.88,117.14 644.61,113.38 645.67,111.38C646.73,109.38 647.33,109.43 649.65,107.48C651.97,105.53 656.28,102.47 659.59,99.67C662.91,96.87 666.07,93.81 669.54,90.66C673,87.51 678.59,82.4 680.4,80.75" fill="none" stroke="#0072bd" stroke-width="1.9" stroke-linejoin="round"/>
</g>
<rect x="527.4" y="37.5" width="153" height="90.1" fill="none" stroke="#333333" stroke-width="0.9"/>
<path d="M527.4,127.6v-1.6M527.4,37.5v1.6M535.05,127.6v-1.6M535.05,37.5v1.6M542.7,127.6v-1.6M542.7,37.5v1.6M550.35,127.6v-1.6M550.35,37.5v1.6M558,127.6v-1.6M558,37.5v1.6M565.65,127.6v-1.6M565.65,37.5v1.6M573.3,127.6v-1.6M573.3,37.5v1.6M580.95,127.6v-1.6M580.95,37.5v1.6M588.6,127.6v-1.6M588.6,37.5v1.6M596.25,127.6v-1.6M596.25,37.5v1.6M603.9,127.6v-1.6M603.9,37.5v1.6M611.55,127.6v-1.6M611.55,37.5v1.6M619.2,127.6v-1.6M619.2,37.5v1.6M626.85,127.6v-1.6M626.85,37.5v1.6M634.5,127.6v-1.6M634.5,37.5v1.6M642.15,127.6v-1.6M642.15,37.5v1.6M649.8,127.6v-1.6M649.8,37.5v1.6M657.45,127.6v-1.6M657.45,37.5v1.6M665.1,127.6v-1.6M665.1,37.5v1.6M672.75,127.6v-1.6M672.75,37.5v1.6M680.4,127.6v-1.6M680.4,37.5v1.6M527.4,127.6h1.6M680.4,127.6h-1.6M527.4,121.59h1.6M680.4,121.59h-1.6M527.4,115.59h1.6M680.4,115.59h-1.6M527.4,109.58h1.6M680.4,109.58h-1.6M527.4,103.57h1.6M680.4,103.57h-1.6M527.4,97.57h1.6M680.4,97.57h-1.6M527.4,91.56h1.6M680.4,91.56h-1.6M527.4,85.55h1.6M680.4,85.55h-1.6M527.4,79.55h1.6M680.4,79.55h-1.6M527.4,73.54h1.6M680.4,73.54h-1.6M527.4,67.53h1.6M680.4,67.53h-1.6M527.4,61.53h1.6M680.4,61.53h-1.6M527.4,55.52h1.6M680.4,55.52h-1.6M527.4,49.51h1.6M680.4,49.51h-1.6M527.4,43.51h1.6M680.4,43.51h-1.6M527.4,37.5h1.6M680.4,37.5h-1.6" stroke="#555" stroke-width="0.7" fill="none"/>
<text x="527.4" y="141.1" font-size="10" text-anchor="middle">0</text>
<text x="565.65" y="141.1" font-size="10" text-anchor="middle">5</text>
<text x="603.9" y="141.1" font-size="10" text-anchor="middle">10</text>
<text x="642.15" y="141.1" font-size="10" text-anchor="middle">15</text>
<text x="680.4" y="141.1" font-size="10" text-anchor="middle">20</text>
<text x="523.8" y="131.5" font-size="10" text-anchor="end">0</text>
<text x="523.8" y="101.47" font-size="10" text-anchor="end">1</text>
<text x="523.8" y="71.43" font-size="10" text-anchor="end">2</text>
<text x="523.8" y="41.4" font-size="10" text-anchor="end">3</text>
<text x="581.99" y="153" font-size="10" textLength="44.18" lengthAdjust="spacingAndGlyphs">Time (min)</text>
<text x="530.53" y="50.9" font-size="10" font-weight="bold">D</text>
<text x="545.88" y="50.9" font-size="10">R</text>
<text x="553.27" y="46.4" font-size="6.6">2</text>
<text x="560.21" y="50.9" font-size="10">=</text>
<text x="568.63" y="50.9" font-size="10" textLength="34.44" lengthAdjust="spacingAndGlyphs">0.87011</text>
<rect x="105.6" y="166.7" width="152.8" height="7.6" fill="#faf6d6"/>
<rect x="140.33" y="166.7" width="83.35" height="7.6" fill="#000"/>
<rect x="105.6" y="166.7" width="152.8" height="7.6" fill="none" stroke="#4a4a4a" stroke-width="1"/>
<clipPath id="cE"><rect x="105.6" y="185.6" width="152.8" height="90.4"/></clipPath>
<g clip-path="url(#cE)">
<path d="M105.6,276L106.23,275.01L107.08,273.43L108.09,272.62L109.2,270.01L110.36,268.23L111.49,266.66L112.55,266.39L113.54,265.66L114.53,265.19L115.52,263.68L116.51,264.06L117.51,263.87L118.5,263.38L119.49,262.74L120.48,262.89L121.48,262.45L122.47,261.4L123.46,260.97L124.45,261.26L125.44,261.15L126.44,259.38L127.46,259.18L128.52,258.85L129.6,258.59L130.65,257.19L131.65,257.41L132.57,257.14L133.38,256.71L134.8,254.92L135.83,253.06L136.85,251.8L138.14,248.89L139.43,247.17L140.33,245.87L140.33,245.87L140.85,253.88L141.72,262.2L142.28,265.12L143,266.69L144.49,267.87L144.92,268.05L145.04,268.24L145.02,267.79L145.02,268.76L145.19,267.83L145.69,268.49L146.69,267.58L148.34,268.65L150.8,267.95L154.22,267.95L154.82,267.54L155.46,268.3L156.14,268.2L156.86,268.39L157.61,267.73L158.4,267.7L159.22,268.56L160.08,268.28L160.96,268.24L161.88,267.08L162.82,267.83L163.79,267.65L164.79,268.05L165.81,267.48L166.85,267.24L167.92,267.44L169.01,268.43L170.12,267.76L171.25,267.67L172.39,268.32L173.55,267.18L174.73,267.88L175.92,267.9L177.12,267.39L178.33,267.43L179.55,267.55L180.79,266.99L182.03,267.48L183.27,267.73L184.52,268.13L185.78,267.38L187.03,267.65L188.29,267.37L189.55,267.64L190.81,268.14L192.07,268.08L193.32,267.88L194.57,267.96L195.81,266.8L197.04,267.19L198.27,267.69L199.49,266.96L200.69,267.06L201.88,267.91L203.06,266.85L204.23,267.63L205.38,266.45L206.51,267.73L207.62,267.5L208.72,267.54L209.79,266.6L210.84,266.65L211.87,267L212.88,267.63L213.86,267.2L214.81,266.77L215.73,267.73L216.62,266.42L217.49,266.53L218.32,266.38L219.12,266.72L219.88,266.83L220.61,266.28L221.3,267.34L221.95,267.28L222.57,267.54L223.14,267.45L223.67,266.96L223.67,266.96L224.17,261.03L225.06,254.91L225.95,249.18L227.05,244.85L228.26,240.18L229.24,238.37L230.31,237.09L231.41,235.8L232.49,236.01L233.49,234.81L234.45,234.01L235.47,233.28L236.66,232.05L237.59,230.96L238.61,230.27L239.69,229.02L240.79,228.4L241.9,227.96L242.98,226.87L244.06,225.73L245.17,224.9L246.27,224.88L247.35,224.22L248.37,223.16L249.3,223.07L250.49,221.09L251.51,221.46L252.48,219.52L253.54,218.77L254.55,218.31L255.67,216.77L256.78,215.97L257.73,214.41L258.4,214.53 L258.4,236.53L257.74,236.89L256.82,237.07L255.74,237.76L254.56,238.53L253.39,239.52L252.3,241.4L251.39,242.36L250.14,242.95L249.13,245.23L248.2,247.01L247.22,248.2L246.16,249.15L245.1,251.16L244.04,252.4L242.98,254.97L241.97,254.65L240.99,256.2L239.95,256.25L238.74,257.71L237.82,258.63L236.82,259.04L235.75,259.45L234.66,261.25L233.57,262.57L232.49,262.82L231.39,263.78L230.23,263.22L229.06,264.36L227.95,264.35L226.94,264.66L226.1,266.44L224.49,270.58L223.67,274.19L223.67,274.19L223.14,274.32L222.57,273.76L221.95,274.63L221.3,273.7L220.61,273.58L219.88,274.25L219.12,273.46L218.32,274.67L217.49,273.77L216.62,274.67L215.73,274.62L214.81,273.72L213.86,274.58L212.88,274.62L211.87,274.91L210.84,273.44L209.79,273.41L208.72,274.29L207.62,274.41L206.51,273.95L205.38,274.02L204.23,273.65L203.06,273.75L201.88,274.36L200.69,273.99L199.49,273.58L198.27,274.06L197.04,274.7L195.81,273.71L194.57,274.48L193.32,274.76L192.07,273.39L190.81,274.74L189.55,274.25L188.29,273.5L187.03,274.31L185.78,273.61L184.52,274.36L183.27,273.89L182.03,273.49L180.79,274.19L179.55,274.73L178.33,274.08L177.12,273.96L175.92,274.78L174.73,273.56L173.55,274.67L172.39,273.64L171.25,273.63L170.12,273.48L169.01,274.53L167.92,273.97L166.85,274.18L165.81,273.61L164.79,274.03L163.79,273.52L162.82,273.33L161.88,274.33L160.96,273.92L160.08,274.52L159.22,273.77L158.4,274.23L157.61,273.81L156.86,273.74L156.14,273.48L155.46,274.61L154.82,273.37L154.22,273.77L150.8,273.61L148.34,273.16L146.69,273.72L145.69,274.4L145.19,273.07L145.02,273.37L145.02,273.43L145.04,273.58L144.92,273.15L144.49,273.18L143,271.38L142.28,268.94L141.72,267.39L140.85,262.59L140.33,259.43L140.33,259.43L139.43,259.87L138.14,261.27L136.85,262.9L135.83,262.65L134.8,261.37L133.38,260.96L132.57,260.96L131.65,262.24L130.65,262.2L129.6,262.37L128.52,263.05L127.46,263.23L126.44,263.83L125.44,263.7L124.45,263.62L123.46,264.81L122.47,265.02L121.48,264.62L120.48,265.31L119.49,265.37L118.5,266.5L117.51,266.11L116.51,267.06L115.52,267.1L114.53,266.93L113.54,267.08L112.55,267.96L111.49,268.86L110.36,270.99L109.2,271.18L108.09,272.49L107.08,274.13L106.23,274.7L105.6,276 Z" fill="#cccccc"/>
<path d="M105.6,276L106.16,274.41L106.99,272.84L107.9,271.42L109.07,270.03L110.51,268.94L112.55,267.56L113.71,266.9L115.07,266.19L116.55,265.89L118.05,264.73L119.49,264.49L120.88,263.89L122.27,263.32L123.66,263.35L125.05,262.39L126.44,261.81L127.83,261.73L129.21,261.24L130.6,260.11L131.99,259.34L133.38,258.61L134.88,257.9L136.49,256.59L138.05,255.75L139.38,254.62L140.33,253.7L140.33,253.7L140.8,258.24L141.44,263.17L142,266.82L142.83,268.46L144.06,270.46L146.02,270.54L146.89,271.29L147.66,271.03L148.71,271.12L150.43,271.09L153.18,271.5L154.13,271.35L155.2,271.66L156.36,271.28L157.62,271.81L158.96,271.25L160.37,271.47L161.84,271.85L163.36,271.22L164.91,271.67L166.48,271.85L168.07,271.71L169.66,271.87L171.24,271.68L172.8,271.37L174.33,271.16L175.82,271.41L177.25,271.24L178.62,271.25L179.92,271.32L181.48,271.55L182.99,271.64L184.45,271.7L185.89,271.4L187.28,271.64L188.66,271.24L190.01,271.52L191.34,271.32L192.67,271.32L194,271.24L195.32,271.56L196.65,271.46L198,271.11L199.36,271.42L200.75,271.05L202.2,270.8L203.72,271.16L205.29,270.69L206.9,270.87L208.53,270.57L210.16,270.8L211.78,270.56L213.36,270.54L214.89,270.82L216.36,270.52L217.73,270.41L219,270.43L220.15,270.24L221.16,270.01L222.01,270.06L224.17,269.99L223.67,270.27L223.67,270.27L223.91,267.1L224.37,262.59L225.01,259.86L226.1,257L227.35,255.52L228.89,253.15L230.41,250.65L231.81,249.73L233.19,248.47L234.58,247.61L235.96,246.82L237.35,245.93L238.74,244.92L240.15,243.59L241.57,242.82L242.98,241.44L244.4,240.45L245.81,238.72L247.22,237.35L248.61,235.91L249.99,234.48L251.39,233.51L252.85,230.9L254.32,228.98L255.62,227.36L257.28,225.18L258.4,223.87" fill="none" stroke="#000" stroke-width="1.9" stroke-linejoin="round"/>
<path d="M105.6,276C105.77,275.4 106.06,273.59 106.64,272.38C107.22,271.18 108.09,269.87 109.07,268.77C110.06,267.66 110.81,266.61 112.55,265.75C114.28,264.9 117.18,264.45 119.49,263.65C121.81,262.84 124.12,262.09 126.44,260.93C128.75,259.78 131.07,258.27 133.38,256.71C135.7,255.16 139.17,252.45 140.33,251.59L140.33,251.59C140.51,253.4 141.02,259.58 141.44,262.44C141.86,265.3 142.06,267.36 142.83,268.77C143.59,270.17 144.3,270.43 146.02,270.88C147.75,271.33 147.18,271.13 153.18,271.48C159.17,271.83 170.25,272.48 182,272.99C193.75,273.49 216.73,274.24 223.67,274.49L223.67,274.49C223.79,273.04 223.96,268.06 224.37,265.75C224.77,263.44 225.1,262.39 226.1,260.63C227.11,258.87 229,256.61 230.41,255.21C231.82,253.8 232.48,253.75 234.58,252.19C236.67,250.64 240.18,248.13 242.98,245.87C245.78,243.61 248.82,241.1 251.39,238.63C253.95,236.17 257.23,232.36 258.4,231.1" fill="none" stroke="#0072bd" stroke-width="1.9" stroke-linejoin="round"/>
</g>
<rect x="105.6" y="185.6" width="152.8" height="90.4" fill="none" stroke="#333333" stroke-width="0.9"/>
<path d="M105.6,276v-1.6M105.6,185.6v1.6M112.55,276v-1.6M112.55,185.6v1.6M119.49,276v-1.6M119.49,185.6v1.6M126.44,276v-1.6M126.44,185.6v1.6M133.38,276v-1.6M133.38,185.6v1.6M140.33,276v-1.6M140.33,185.6v1.6M147.27,276v-1.6M147.27,185.6v1.6M154.22,276v-1.6M154.22,185.6v1.6M161.16,276v-1.6M161.16,185.6v1.6M168.11,276v-1.6M168.11,185.6v1.6M175.05,276v-1.6M175.05,185.6v1.6M182,276v-1.6M182,185.6v1.6M188.95,276v-1.6M188.95,185.6v1.6M195.89,276v-1.6M195.89,185.6v1.6M202.84,276v-1.6M202.84,185.6v1.6M209.78,276v-1.6M209.78,185.6v1.6M216.73,276v-1.6M216.73,185.6v1.6M223.67,276v-1.6M223.67,185.6v1.6M230.62,276v-1.6M230.62,185.6v1.6M237.56,276v-1.6M237.56,185.6v1.6M244.51,276v-1.6M244.51,185.6v1.6M251.45,276v-1.6M251.45,185.6v1.6M258.4,276v-1.6M258.4,185.6v1.6M105.6,276h1.6M258.4,276h-1.6M105.6,269.97h1.6M258.4,269.97h-1.6M105.6,263.95h1.6M258.4,263.95h-1.6M105.6,257.92h1.6M258.4,257.92h-1.6M105.6,251.89h1.6M258.4,251.89h-1.6M105.6,245.87h1.6M258.4,245.87h-1.6M105.6,239.84h1.6M258.4,239.84h-1.6M105.6,233.81h1.6M258.4,233.81h-1.6M105.6,227.79h1.6M258.4,227.79h-1.6M105.6,221.76h1.6M258.4,221.76h-1.6M105.6,215.73h1.6M258.4,215.73h-1.6M105.6,209.71h1.6M258.4,209.71h-1.6M105.6,203.68h1.6M258.4,203.68h-1.6M105.6,197.65h1.6M258.4,197.65h-1.6M105.6,191.63h1.6M258.4,191.63h-1.6M105.6,185.6h1.6M258.4,185.6h-1.6" stroke="#555" stroke-width="0.7" fill="none"/>
<text x="105.6" y="289.5" font-size="10" text-anchor="middle">0</text>
<text x="140.33" y="289.5" font-size="10" text-anchor="middle">5</text>
<text x="175.05" y="289.5" font-size="10" text-anchor="middle">10</text>
<text x="209.78" y="289.5" font-size="10" text-anchor="middle">15</text>
<text x="244.51" y="289.5" font-size="10" text-anchor="middle">20</text>
<text x="102" y="279.9" font-size="10" text-anchor="end">0</text>
<text x="102" y="249.77" font-size="10" text-anchor="end">1</text>
<text x="102" y="219.63" font-size="10" text-anchor="end">2</text>
<text x="102" y="189.5" font-size="10" text-anchor="end">3</text>
<text x="160.09" y="301.4" font-size="10" textLength="44.18" lengthAdjust="spacingAndGlyphs">Time (min)</text>
<text x="108.93" y="199" font-size="10" font-weight="bold">E</text>
<text x="123.18" y="199" font-size="10">R</text>
<text x="130.57" y="194.5" font-size="6.6">2</text>
<text x="138.01" y="199" font-size="10">=</text>
<text x="146.42" y="199" font-size="10" textLength="34.78" lengthAdjust="spacingAndGlyphs">0.94535</text>
<g transform="translate(86.8,233.7) rotate(-90)"><text x="0" y="0" font-size="10" text-anchor="middle">NPQ</text><text x="11.9" y="5.0" font-size="7">&#964;</text></g>
<rect x="272.4" y="166.7" width="153.3" height="7.6" fill="#faf6d6"/>
<rect x="303.06" y="166.7" width="91.98" height="7.6" fill="#000"/>
<rect x="272.4" y="166.7" width="153.3" height="7.6" fill="none" stroke="#4a4a4a" stroke-width="1"/>
<clipPath id="cF"><rect x="272.4" y="185.6" width="153.3" height="90.4"/></clipPath>
<g clip-path="url(#cF)">
<path d="M272.4,276L273.07,275.46L273.99,273.6L275.08,270.76L276.26,268.97L277.44,266.93L278.53,266.56L279.55,265.66L280.58,264.52L281.6,263.78L282.62,262.97L283.64,263.08L284.66,261.78L285.69,261.28L286.71,261L287.73,259.48L288.75,259.76L289.77,258.11L290.8,257.79L291.85,256.95L292.95,255.12L294.05,253.82L295.11,252.45L296.08,251.63L296.93,249.74L298.18,248.26L299.09,247.75L299.99,246.31L301.13,242.55L302.27,240.86L303.06,238.94L303.06,238.94L303.52,250.85L304.29,262.93L305.05,267.04L306.74,269.86L307.03,269.94L306.79,269.7L306.38,270.28L306.2,269.84L306.63,269.35L308.03,269.53L310.81,269.75L315.32,269.78L315.91,270.27L316.53,269.78L317.18,269.77L317.87,269.87L318.59,270.03L319.34,269.64L320.13,270.47L320.94,269.72L321.78,269.33L322.65,270.75L323.55,270.44L324.47,269.34L325.42,270.71L326.39,269.61L327.38,269.98L328.4,270.76L329.44,269.92L330.5,270.87L331.57,269.61L332.67,270.44L333.78,269.51L334.91,269.56L336.06,270.72L337.22,270.32L338.39,270.71L339.58,269.81L340.78,270.82L341.99,270.86L343.2,270.8L344.43,269.69L345.67,270.62L346.91,270.52L348.16,270.34L349.41,270.19L350.67,270.41L351.93,269.61L353.19,270.53L354.45,270.34L355.72,269.77L356.98,270.71L358.24,270.82L359.5,269.83L360.76,270.62L362.01,269.76L363.25,269.88L364.49,270.56L365.72,270.63L366.95,270.99L368.16,269.83L369.37,270.49L370.56,270.65L371.74,270.91L372.91,270.84L374.06,269.87L375.2,271L376.32,270.37L377.42,270.27L378.51,270.43L379.58,270.47L380.63,270.63L381.66,270.95L382.66,270.01L383.65,269.9L384.61,270.41L385.54,270.88L386.45,269.9L387.34,270.97L388.19,271.02L389.02,270.34L389.82,270.04L390.59,270.44L391.33,271.14L392.03,269.83L392.7,271.08L393.34,270.8L393.94,269.83L394.51,270.13L395.04,270.58L395.04,270.58L395.85,266.45L397.02,262.26L398.29,256.79L399.23,255.64L400.21,255.06L401.26,252.93L402.4,251.55L403.4,251.69L404.47,249.82L405.59,247.85L406.71,247.4L407.79,246.16L408.85,244.2L409.89,243.47L410.92,241.38L411.96,240.33L413.01,239L414.07,237.88L415.14,237.29L416.21,235.13L417.28,233.8L418.34,232.33L419.44,230.33L420.58,228.6L421.7,226.61L422.71,223.59L423.55,222.86L424.95,221.15L425.7,219.65 L425.7,253.1L425.02,253.99L424.07,254.05L422.96,254.01L421.74,255.4L420.51,254.73L419.35,255.21L418.34,256.7L417.14,256.89L416.06,258.25L415.03,258.06L414.03,258.8L413.01,259.85L411.96,260.34L410.92,260.97L409.89,261.58L408.85,262.06L407.79,263.07L406.71,263.84L405.59,264.24L404.47,264.14L403.4,265.59L402.4,266.23L401.26,266.23L400.21,266.54L399.23,267.69L398.29,267.66L397.02,270.14L395.85,273.16L395.04,274.79L395.04,274.79L394.51,274.63L393.94,274.94L393.34,274.28L392.7,274.53L392.03,274.87L391.33,274.77L390.59,275.47L389.82,274.53L389.02,274.92L388.19,275.17L387.34,275.11L386.45,275.23L385.54,274.47L384.61,274.02L383.65,274.06L382.66,274.77L381.66,275.33L380.63,274.98L379.58,275.26L378.51,274.71L377.42,274.12L376.32,274.92L375.2,274.55L374.06,274.19L372.91,274.94L371.74,274.44L370.56,275.15L369.37,274.73L368.16,274.62L366.95,274.61L365.72,275.22L364.49,274.71L363.25,274.09L362.01,273.77L360.76,274.69L359.5,274.49L358.24,273.91L356.98,275.13L355.72,274.12L354.45,274.22L353.19,274.42L351.93,274.44L350.67,274.19L349.41,273.96L348.16,274.71L346.91,274.74L345.67,274.52L344.43,274.64L343.2,274.26L341.99,274.51L340.78,274.63L339.58,273.83L338.39,273.51L337.22,273.51L336.06,274.27L334.91,274.3L333.78,273.58L332.67,274.57L331.57,274.69L330.5,274.75L329.44,274.52L328.4,274.31L327.38,273.47L326.39,274.43L325.42,273.81L324.47,274.38L323.55,274.02L322.65,274.2L321.78,274.39L320.94,274.66L320.13,273.67L319.34,273.78L318.59,274.29L317.87,274.01L317.18,273.4L316.53,273.76L315.91,274.44L315.32,273.85L310.81,274.43L308.03,273.54L306.63,274.5L306.2,274.4L306.38,273.25L306.79,273.9L307.03,273.67L306.74,272.45L305.05,270.99L304.29,267.69L303.52,259.3L303.06,251.29L303.06,251.29L302.39,252.45L301.47,251.89L300.38,253.94L299.2,254.45L298.02,255L296.93,256.54L295.91,257.84L294.88,257.4L293.86,259.04L292.84,259.8L291.82,260.67L290.8,260.88L289.77,261.79L288.75,262.16L287.73,263.31L286.71,263.91L285.69,264.02L284.66,265.03L283.64,264.54L282.62,265.99L281.6,265.64L280.58,267.22L279.55,267.1L278.53,268.72L277.44,270.13L276.26,271.23L275.08,272.21L273.99,273.9L273.07,274.42L272.4,276 Z" fill="#cccccc"/>
<path d="M272.4,276L272.9,274.41L273.63,272.69L274.43,271.25L275.47,269.87L276.73,268.33L278.53,267.22L279.85,266.25L281.41,265.31L283.06,264.13L284.66,263.09L286.2,262.45L287.73,261.46L289.26,260.08L290.8,258.76L292.4,257.36L294.05,255.21L295.61,253.46L296.93,252.06L298.65,250.04L299.99,248.14L301.72,246.29L303.06,244.36L303.06,244.36L303.47,250.73L303.98,258.79L304.33,262.79L304.78,266.27L304.83,268.89L306.43,270.5L307.27,270.44L308.29,270.73L309.45,270.71L310.74,271.27L312.13,270.81L313.59,271.22L315.1,271.29L316.64,271.15L318.17,271.32L319.68,271.52L320.95,271.7L322.27,271.64L323.63,272.02L325.03,271.91L326.45,271.55L327.89,272.11L329.32,272.18L330.75,271.67L332.16,272.06L333.54,271.99L334.88,271.98L336.17,271.93L337.63,272.26L339,271.97L340.3,272.56L341.56,271.97L342.82,272.39L344.1,272.19L345.43,272.45L346.85,272.15L348.37,272.44L350.03,272.31L351.22,272.53L352.45,272.18L353.72,272.24L355.03,272.67L356.38,272.29L357.76,272.17L359.17,272.7L360.6,272.75L362.05,272.23L363.52,272.23L365,272.85L366.5,272.41L368,272.32L369.5,272.83L371,272.48L372.38,272.86L373.84,272.54L375.37,272.78L376.96,272.84L378.58,273.13L380.23,272.79L381.88,272.8L383.52,273.14L385.13,273.36L386.7,273.36L388.21,273.28L389.64,272.79L390.97,273L392.2,272.93L393.29,273.06L394.25,273.53L395.04,273.29L395.04,273.29L395.53,269.87L396.27,265.43L397.1,263.18L398.29,261.18L399.46,259.89L400.86,258.55L402.4,257.13L403.66,256.05L405.03,255.49L406.43,254.82L407.79,253.54L409.11,252.49L410.4,250.93L411.7,249.28L413.01,248.14L414.28,246.91L415.54,245.84L416.86,244.4L418.34,242.84L419.8,241.31L421.49,239.33L423.19,238.22L424.67,236.56L425.7,235.32" fill="none" stroke="#000" stroke-width="1.9" stroke-linejoin="round"/>
<path d="M272.4,276C272.55,275.4 272.81,273.59 273.32,272.38C273.83,271.18 274.6,269.77 275.47,268.77C276.33,267.76 277,267.26 278.53,266.36C280.06,265.45 282.62,264.45 284.66,263.34C286.71,262.24 288.75,261.03 290.8,259.73C292.84,258.42 294.88,257.02 296.93,255.51C298.97,254 302.04,251.49 303.06,250.69L303.06,250.69C303.21,252.19 303.69,257.12 303.98,259.73C304.27,262.34 304.37,264.55 304.78,266.36C305.19,268.17 305.6,269.72 306.43,270.58C307.26,271.43 307.54,271.23 309.74,271.48C311.95,271.73 312.96,271.73 319.68,272.08C326.39,272.43 337.47,273.14 350.03,273.59C362.59,274.04 387.54,274.59 395.04,274.79L395.04,274.79C395.24,273.64 395.72,269.87 396.27,267.86C396.81,265.86 397.27,264.3 398.29,262.74C399.31,261.18 399.95,260.78 402.4,258.52C404.85,256.26 409.12,253.05 413.01,249.18C416.89,245.31 423.58,237.63 425.7,235.32" fill="none" stroke="#0072bd" stroke-width="1.9" stroke-linejoin="round"/>
</g>
<rect x="272.4" y="185.6" width="153.3" height="90.4" fill="none" stroke="#333333" stroke-width="0.9"/>
<path d="M272.4,276v-1.6M272.4,185.6v1.6M278.53,276v-1.6M278.53,185.6v1.6M284.66,276v-1.6M284.66,185.6v1.6M290.8,276v-1.6M290.8,185.6v1.6M296.93,276v-1.6M296.93,185.6v1.6M303.06,276v-1.6M303.06,185.6v1.6M309.19,276v-1.6M309.19,185.6v1.6M315.32,276v-1.6M315.32,185.6v1.6M321.46,276v-1.6M321.46,185.6v1.6M327.59,276v-1.6M327.59,185.6v1.6M333.72,276v-1.6M333.72,185.6v1.6M339.85,276v-1.6M339.85,185.6v1.6M345.98,276v-1.6M345.98,185.6v1.6M352.12,276v-1.6M352.12,185.6v1.6M358.25,276v-1.6M358.25,185.6v1.6M364.38,276v-1.6M364.38,185.6v1.6M370.51,276v-1.6M370.51,185.6v1.6M376.64,276v-1.6M376.64,185.6v1.6M382.78,276v-1.6M382.78,185.6v1.6M388.91,276v-1.6M388.91,185.6v1.6M395.04,276v-1.6M395.04,185.6v1.6M401.17,276v-1.6M401.17,185.6v1.6M407.3,276v-1.6M407.3,185.6v1.6M413.44,276v-1.6M413.44,185.6v1.6M419.57,276v-1.6M419.57,185.6v1.6M425.7,276v-1.6M425.7,185.6v1.6M272.4,276h1.6M425.7,276h-1.6M272.4,269.97h1.6M425.7,269.97h-1.6M272.4,263.95h1.6M425.7,263.95h-1.6M272.4,257.92h1.6M425.7,257.92h-1.6M272.4,251.89h1.6M425.7,251.89h-1.6M272.4,245.87h1.6M425.7,245.87h-1.6M272.4,239.84h1.6M425.7,239.84h-1.6M272.4,233.81h1.6M425.7,233.81h-1.6M272.4,227.79h1.6M425.7,227.79h-1.6M272.4,221.76h1.6M425.7,221.76h-1.6M272.4,215.73h1.6M425.7,215.73h-1.6M272.4,209.71h1.6M425.7,209.71h-1.6M272.4,203.68h1.6M425.7,203.68h-1.6M272.4,197.65h1.6M425.7,197.65h-1.6M272.4,191.63h1.6M425.7,191.63h-1.6M272.4,185.6h1.6M425.7,185.6h-1.6" stroke="#555" stroke-width="0.7" fill="none"/>
<text x="272.4" y="289.5" font-size="10" text-anchor="middle">0</text>
<text x="303.06" y="289.5" font-size="10" text-anchor="middle">5</text>
<text x="333.72" y="289.5" font-size="10" text-anchor="middle">10</text>
<text x="364.38" y="289.5" font-size="10" text-anchor="middle">15</text>
<text x="395.04" y="289.5" font-size="10" text-anchor="middle">20</text>
<text x="268.8" y="279.9" font-size="10" text-anchor="end">0</text>
<text x="268.8" y="249.77" font-size="10" text-anchor="end">1</text>
<text x="268.8" y="219.63" font-size="10" text-anchor="end">2</text>
<text x="268.8" y="189.5" font-size="10" text-anchor="end">3</text>
<text x="327.14" y="301.4" font-size="10" textLength="44.18" lengthAdjust="spacingAndGlyphs">Time (min)</text>
<text x="281.83" y="199" font-size="10" font-weight="bold">F</text>
<text x="296.18" y="199" font-size="10">R</text>
<text x="303.57" y="194.5" font-size="6.6">2</text>
<text x="311.21" y="199" font-size="10">=</text>
<text x="319.64" y="199" font-size="10" textLength="28.42" lengthAdjust="spacingAndGlyphs">0.9691</text>
<rect x="439.9" y="166.7" width="152.8" height="7.6" fill="#faf6d6"/>
<rect x="465.37" y="166.7" width="101.87" height="7.6" fill="#000"/>
<rect x="439.9" y="166.7" width="152.8" height="7.6" fill="none" stroke="#4a4a4a" stroke-width="1"/>
<clipPath id="cG"><rect x="439.9" y="185.6" width="152.8" height="90.4"/></clipPath>
<g clip-path="url(#cG)">
<path d="M439.9,276L440.59,275.22L441.57,271.87L442.71,270L443.89,267.78L444.99,265.88L446.01,266.12L447.03,264.18L448.05,264.66L449.07,263.8L450.09,263.49L451.11,262.1L452.12,261.82L453.14,260.8L454.16,259.65L455.18,257.58L456.24,256.34L457.34,254.88L458.42,252.58L459.42,250.37L460.27,249.07L461.71,246.14L462.82,243.54L464.25,240.53L465.37,238.03L465.37,238.03L465.75,248.6L466.39,261.23L467.02,265.25L468.42,267.2L468.43,268.21L467.62,269.15L466.69,269.08L466.31,268L467.21,267.72L470.05,267.84L475.55,268.15L476.12,268.11L476.71,268.75L477.34,268.03L478,267.43L478.69,268.63L479.4,268.02L480.14,267.66L480.91,267.97L481.71,268.42L482.53,268.6L483.38,267.85L484.25,267.56L485.14,267.64L486.06,268.36L487,267.85L487.96,267.75L488.94,268.41L489.95,267.85L490.97,268.41L492,268.69L493.06,268.99L494.13,267.91L495.22,267.87L496.33,268.94L497.45,268.92L498.58,268.53L499.73,268.7L500.89,267.92L502.06,268.74L503.25,268.15L504.44,268.2L505.64,268.51L506.86,267.75L508.08,268.39L509.3,268.28L510.54,268.05L511.78,268.45L513.03,268.78L514.28,267.63L515.53,267.94L516.79,268.25L518.05,268.33L519.31,268.15L520.58,268.64L521.84,268.98L523.1,268.27L524.36,267.74L525.62,268.95L526.88,267.62L528.14,268.54L529.39,267.61L530.63,267.95L531.87,268.71L533.1,268.8L534.33,267.79L535.55,267.65L536.76,267.92L537.96,268.25L539.15,268.32L540.33,267.96L541.5,267.91L542.66,267.89L543.8,268.72L544.94,267.91L546.05,267.72L547.15,268.3L548.24,269.15L549.31,268.88L550.36,268.19L551.4,268.53L552.41,267.79L553.41,268.21L554.39,268.13L555.35,268.96L556.28,268.4L557.19,268.12L558.08,267.81L558.95,267.84L559.79,268.8L560.61,268.44L561.4,267.73L562.16,269.07L562.9,269.1L563.61,268.94L564.29,268.11L564.94,268.72L565.56,268.15L566.15,267.97L566.71,268L567.23,268.47L567.23,268.47L568.07,266.12L569.29,260.87L570.7,256.87L571.62,255.33L572.64,253.65L573.72,252.4L574.82,251.37L575.89,249.53L576.95,248.48L578.02,247.59L579.09,245.71L580.17,242.97L581.24,241.89L582.3,239.44L583.34,236.36L584.39,234.02L585.47,231.19L586.59,229.04L587.63,226.65L588.8,224.76L589.98,222.02L591.09,219.71L592.03,217.13L592.7,215.73 L592.7,249.18L592.03,249.93L591.09,249.86L589.98,250.77L588.8,252.02L587.63,253.6L586.59,254.25L585.47,255.66L584.39,256.71L583.34,257.84L582.3,258.75L581.24,259.76L580.17,260.74L579.09,260.64L578.02,262.69L576.95,262.81L575.89,263.69L574.82,263.82L573.72,265.6L572.64,265.23L571.62,266.29L570.7,267.57L569.29,270.39L568.07,273.06L567.23,275.1L567.23,275.1L566.71,275.67L566.15,274.82L565.56,275.54L564.94,274.9L564.29,274.94L563.61,274.96L562.9,275.31L562.16,274.42L561.4,275.06L560.61,274.67L559.79,274.75L558.95,275.31L558.08,274.66L557.19,274.57L556.28,274.82L555.35,274.77L554.39,274.75L553.41,274.49L552.41,274.47L551.4,275.18L550.36,274.31L549.31,274.43L548.24,274.96L547.15,274.65L546.05,274.83L544.94,275.34L543.8,274.54L542.66,275.05L541.5,275.24L540.33,274.48L539.15,275.14L537.96,274.06L536.76,274.76L535.55,275.35L534.33,274.8L533.1,274.04L531.87,274.46L530.63,274.5L529.39,274.8L528.14,274.05L526.88,274.4L525.62,274.51L524.36,274.64L523.1,273.93L521.84,273.86L520.58,273.76L519.31,275.03L518.05,275L516.79,274.5L515.53,274.81L514.28,274.56L513.03,274.72L511.78,274.5L510.54,274.1L509.3,273.56L508.08,273.88L506.86,273.4L505.64,273.54L504.44,274.71L503.25,274.18L502.06,274.05L500.89,273.35L499.73,274.68L498.58,274.62L497.45,274.61L496.33,273.29L495.22,274.14L494.13,274.35L493.06,273.2L492,273.16L490.97,273.46L489.95,274.04L488.94,273.91L487.96,273.89L487,274.26L486.06,273.83L485.14,273.76L484.25,274.21L483.38,273.12L482.53,273.74L481.71,273.56L480.91,273.68L480.14,274.17L479.4,273.99L478.69,272.96L478,273.45L477.34,273.58L476.71,273.96L476.12,273.41L475.55,273.56L470.05,273.87L467.21,273.13L466.31,273.11L466.69,273.72L467.62,272.72L468.43,273.67L468.42,272.6L467.02,272.54L466.39,270.53L465.75,263.96L465.37,257.92L465.37,257.92L464.25,259.31L462.82,261.46L461.71,263.88L460.27,265.83L459.42,265.26L458.42,265.18L457.34,266.01L456.24,266.44L455.18,267L454.16,266.25L453.14,267.03L452.12,266.83L451.11,266.29L450.09,267.17L449.07,266.58L448.05,268.11L447.03,268.04L446.01,269.3L444.99,269.54L443.89,271.13L442.71,271.83L441.57,274.27L440.59,274.99L439.9,276 Z" fill="#cccccc"/>
<path d="M439.9,276L440.31,274.68L440.92,273.12L441.59,271.77L442.45,270.65L443.5,269.42L444.99,267.68L446.09,267.15L447.38,266.8L448.75,265.99L450.09,265.77L451.36,264.52L452.63,263.66L453.91,262.75L455.18,262.42L456.45,260.97L457.73,259.81L459,259.03L460.27,257.24L461.67,255.61L463.14,253.3L464.45,251.3L465.37,249.48L465.37,249.48L465.69,254.91L466.13,260.68L466.54,265.05L467.15,267.95L467.02,269.48L469.44,270.83L470.31,270.39L471.33,270.41L472.49,270.61L473.76,270.85L475.13,270.97L476.59,270.76L478.11,270.79L479.69,270.85L481.3,270.52L482.94,270.52L484.58,270.77L486.2,270.81L487.8,270.57L489.35,270.41L490.83,270.46L492.2,270.5L493.57,270.34L494.96,270.47L496.35,270.73L497.74,270.54L499.14,270.64L500.54,270.91L501.94,271.08L503.34,270.97L504.73,270.77L506.13,270.79L507.51,271.16L508.9,271.03L510.27,271.41L511.64,271.07L512.99,271.22L514.42,271.03L515.85,271.01L517.26,271.64L518.67,271.03L520.07,271.66L521.47,271.14L522.86,271.18L524.25,271.78L525.63,271.78L527.02,271.93L528.4,271.41L529.79,271.55L531.18,271.42L532.58,271.55L533.97,271.88L535.39,271.58L536.84,271.86L538.32,271.85L539.81,271.74L541.31,271.5L542.81,271.73L544.3,271.5L545.77,271.44L547.23,271.22L548.65,271.4L550.03,271.39L551.37,271.24L552.65,271.27L553.86,271.04L555.01,271.46L556.82,271.39L558.55,271.47L560.19,271.2L561.72,270.89L563.12,271.07L564.39,271.06L565.51,270.85L566.46,270.94L567.23,271.18L567.23,271.18L567.45,268.94L568,265.96L569.07,263.17L570.7,260.83L571.82,259.24L573.13,258.28L574.52,256.69L575.89,255.05L577.22,253.96L578.56,252.58L579.9,250.63L581.24,249.4L582.56,247.16L583.87,245.54L585.2,243.41L586.59,241.62L588.21,239.23L589.98,236.68L591.58,234.35L592.7,232.31" fill="none" stroke="#000" stroke-width="1.9" stroke-linejoin="round"/>
<path d="M439.9,276C440.03,275.5 440.24,274.04 440.66,272.99C441.09,271.93 441.73,270.68 442.45,269.67C443.17,268.67 443.72,267.81 444.99,266.96C446.27,266.11 448.39,265.5 450.09,264.55C451.78,263.6 453.48,262.44 455.18,261.23C456.88,260.03 458.58,258.97 460.27,257.32C461.97,255.66 464.52,252.3 465.37,251.29L465.37,251.29C465.49,252.95 465.83,258.32 466.13,261.23C466.43,264.15 466.62,267.11 467.15,268.77C467.68,270.43 467.41,270.68 469.29,271.18C471.16,271.68 474.14,271.53 478.41,271.78C482.68,272.03 488.47,272.38 494.91,272.69C501.34,272.99 509.2,273.29 517.01,273.59C524.82,273.89 533.4,274.19 541.77,274.49C550.14,274.79 562.99,275.25 567.23,275.4L567.23,275.4C567.36,274.14 567.42,269.97 568,267.86C568.57,265.75 569.38,264.5 570.7,262.74C572.01,260.98 574.13,259.08 575.89,257.32C577.65,255.56 579.46,254.1 581.24,252.19C583.02,250.29 584.68,248.33 586.59,245.87C588.5,243.41 591.68,238.84 592.7,237.43" fill="none" stroke="#0072bd" stroke-width="1.9" stroke-linejoin="round"/>
</g>
<rect x="439.9" y="185.6" width="152.8" height="90.4" fill="none" stroke="#333333" stroke-width="0.9"/>
<path d="M439.9,276v-1.6M439.9,185.6v1.6M450.09,276v-1.6M450.09,185.6v1.6M460.27,276v-1.6M460.27,185.6v1.6M470.46,276v-1.6M470.46,185.6v1.6M480.65,276v-1.6M480.65,185.6v1.6M490.83,276v-1.6M490.83,185.6v1.6M501.02,276v-1.6M501.02,185.6v1.6M511.21,276v-1.6M511.21,185.6v1.6M521.39,276v-1.6M521.39,185.6v1.6M531.58,276v-1.6M531.58,185.6v1.6M541.77,276v-1.6M541.77,185.6v1.6M551.95,276v-1.6M551.95,185.6v1.6M562.14,276v-1.6M562.14,185.6v1.6M572.33,276v-1.6M572.33,185.6v1.6M582.51,276v-1.6M582.51,185.6v1.6M592.7,276v-1.6M592.7,185.6v1.6M439.9,276h1.6M592.7,276h-1.6M439.9,269.97h1.6M592.7,269.97h-1.6M439.9,263.95h1.6M592.7,263.95h-1.6M439.9,257.92h1.6M592.7,257.92h-1.6M439.9,251.89h1.6M592.7,251.89h-1.6M439.9,245.87h1.6M592.7,245.87h-1.6M439.9,239.84h1.6M592.7,239.84h-1.6M439.9,233.81h1.6M592.7,233.81h-1.6M439.9,227.79h1.6M592.7,227.79h-1.6M439.9,221.76h1.6M592.7,221.76h-1.6M439.9,215.73h1.6M592.7,215.73h-1.6M439.9,209.71h1.6M592.7,209.71h-1.6M439.9,203.68h1.6M592.7,203.68h-1.6M439.9,197.65h1.6M592.7,197.65h-1.6M439.9,191.63h1.6M592.7,191.63h-1.6M439.9,185.6h1.6M592.7,185.6h-1.6" stroke="#555" stroke-width="0.7" fill="none"/>
<text x="439.9" y="289.5" font-size="10" text-anchor="middle">0</text>
<text x="490.83" y="289.5" font-size="10" text-anchor="middle">10</text>
<text x="541.77" y="289.5" font-size="10" text-anchor="middle">20</text>
<text x="592.7" y="289.5" font-size="10" text-anchor="middle">30</text>
<text x="436.3" y="279.9" font-size="10" text-anchor="end">0</text>
<text x="436.3" y="249.77" font-size="10" text-anchor="end">1</text>
<text x="436.3" y="219.63" font-size="10" text-anchor="end">2</text>
<text x="436.3" y="189.5" font-size="10" text-anchor="end">3</text>
<text x="494.39" y="301.4" font-size="10" textLength="44.18" lengthAdjust="spacingAndGlyphs">Time (min)</text>
<text x="442.29" y="199" font-size="10" font-weight="bold">G</text>
<text x="458.18" y="199" font-size="10">R</text>
<text x="465.57" y="194.5" font-size="6.6">2</text>
<text x="472.91" y="199" font-size="10">=</text>
<text x="481.34" y="199" font-size="10" textLength="33.72" lengthAdjust="spacingAndGlyphs">0.93371</text>
<rect x="105.6" y="316.4" width="152.8" height="7.6" fill="#faf6d6"/>
<rect x="128.52" y="316.4" width="7.64" height="7.6" fill="#000"/>
<rect x="143.8" y="316.4" width="22.92" height="7.6" fill="#000"/>
<rect x="235.48" y="316.4" width="22.92" height="7.6" fill="#000"/>
<rect x="105.6" y="316.4" width="152.8" height="7.6" fill="none" stroke="#4a4a4a" stroke-width="1"/>
<clipPath id="cH"><rect x="105.6" y="335.3" width="152.8" height="90.1"/></clipPath>
<g clip-path="url(#cH)">
<path d="M105.6,425.4L106.19,423.98L106.97,424.06L107.91,423.05L108.94,420.43L110.04,419.67L111.15,418.31L112.23,416.66L113.24,416.04L114.22,416.08L115.24,415.53L116.27,414.56L117.3,414.2L118.29,414.62L119.24,414.33L120.11,413.68L120.88,414.05L122.12,412.33L123.08,412.02L123.89,412.22L124.7,410.86L125.86,409.49L126.94,408.69L127.76,406.88L128.33,405.18L128.52,404.98L128.52,404.98L129.14,411.26L130.05,417.55L131.05,421.01L132.34,421.05L133.28,421.94L134.39,422.25L135.44,423.1L136.16,422.4L136.16,422.4L137.2,413.28L138.53,403.92L139.74,400.3L140.9,399.16L141.98,394.81L142.88,391.15L143.47,391.36L143.8,391.76L143.8,391.76L144.42,402.49L145.33,413.38L146.33,418.57L147.62,419.9L148.2,419.85L148.72,420.22L149.64,419.71L151.44,420.88L152.16,420.06L153.02,420.7L154.01,419.66L155.09,420.32L156.25,419.98L157.46,419.9L158.7,420.87L159.94,420.91L161.16,419.84L162.33,419.83L163.44,420.4L164.46,421.01L165.36,421.01L166.12,419.84L166.72,420.29L166.72,420.29L167.08,414.88L167.71,408.47L168.68,400.98L169.93,393.7L170.9,390.55L171.99,385.28L173.21,381.13L174.24,378.78L175.36,376.47L176.52,375L177.65,372.68L178.71,371.44L179.75,368.55L180.83,366.94L182,365.48L183.04,364.48L184.15,362.73L185.29,360.85L186.45,358.58L187.58,357.87L188.68,356L189.78,355.82L190.88,354.6L191.97,353.55L193.08,352.44L194.19,350.68L195.31,350.37L196.43,349.54L197.54,348.15L198.66,347.69L199.76,346.29L200.86,345.85L201.96,344.99L203.06,344.98L204.16,344.47L205.26,343.89L206.36,342.66L207.46,342.35L208.56,342.53L209.66,342.22L210.67,342.37L211.59,340.69L212.56,340.55L213.7,340.36L215.16,340.3L215.96,339.68L216.86,339.17L217.83,339.69L218.85,339.56L219.92,339.06L221.01,338.96L222.11,339.57L223.2,339.37L224.26,338.77L225.28,338.13L226.24,338.48L227.39,338.83L228.59,338.27L229.8,338.12L230.98,337.03L232.11,337.6L233.15,336.26L234.08,337.1L234.87,337.1L235.48,336.5L235.48,336.5L235.94,356.88L236.63,377.36L237.37,385.62L238.38,389.24L239.24,392.2L240.27,394.55L241.67,396.94L242.41,396.15L243.22,397.54L244.1,397.82L245.05,398.11L246.07,397.68L247.16,397.81L248.32,398.65L249.23,399.03L250.27,399.74L251.41,399.24L252.59,399.45L253.77,400.72L254.93,400.92L256.01,400.51L256.97,400.89L257.78,402.02L258.4,401.67 L258.4,414.89L257.8,415.09L257.01,413.92L256.08,414.82L255.04,413.58L253.92,413.72L252.76,414.06L251.58,413.13L250.43,413.22L249.33,412.41L248.32,413.32L247.23,412.75L246.11,412.66L244.98,412.52L243.87,412.13L242.79,410.97L241.77,411.46L240.83,411.35L240,411.7L239.3,409.98L237.69,411.79L237.01,407.68L236.1,388.97L235.48,371.94L235.48,371.94L234.96,372.23L234.14,373.15L232.88,374.79L232.18,374.5L231.41,376L230.55,376.7L229.61,376.82L228.58,378.89L227.45,379.8L226.24,380.72L225.39,381.51L224.49,382.13L223.53,382.6L222.53,382.71L221.5,383.69L220.44,385.44L219.37,385.63L218.29,386.34L217.23,387.37L216.18,387.46L215.16,388.36L214.15,389.14L213.15,389.96L212.15,391.15L211.15,391.02L210.16,392.07L209.16,392.83L208.16,393L207.16,394.31L206.16,395.26L205.16,395.29L204.16,395.73L203.15,396.99L202.15,396.83L201.14,397.82L200.13,399.1L199.13,400.05L198.12,400.62L197.11,400.29L196.1,401L195.09,402.32L194.09,402.23L193.08,402.58L192.06,403.66L191.03,403.71L189.99,405.14L188.95,405.06L187.91,406.36L186.88,406.01L185.86,406.49L184.86,408.39L183.87,408.8L182.92,409.11L182,409.45L180.9,409.65L179.8,410.95L178.71,412.17L177.66,411.99L176.65,413L175.68,414.73L174.78,415.2L173.96,415.1L173.21,416.8L171.9,417.28L170.96,417.58L170.22,418.21L169.47,419.76L168.38,421.03L167.4,421.96L166.72,422.7L166.72,422.7L166.12,423.43L165.36,423.16L164.46,422.78L163.44,422.94L162.33,423.06L161.16,422.45L159.94,422.29L158.7,423.05L157.46,422.3L156.25,423.43L155.09,422.8L154.01,422.92L153.02,423.35L152.16,422.26L151.44,422.06L149.64,422.13L148.72,422.33L148.2,422.83L147.62,422.98L146.33,421.48L145.33,419.51L144.42,415.74L143.8,410.98L143.8,410.98L143.03,412.17L141.93,411.91L140.9,413.59L139.68,415.27L138.53,416.8L137.2,421.72L136.16,424.8L136.16,424.8L135.44,424.68L134.39,425L133.28,424.2L132.34,424.62L131.05,424.48L130.05,422.02L129.14,417.21L128.52,413.39L128.52,413.39L127.83,413.48L126.85,414.34L125.74,415.91L124.7,416.05L123.83,416.64L123.03,416.43L122.1,416.49L120.88,416.43L120.11,416.48L119.24,416.14L118.29,417.5L117.3,417.61L116.27,418.03L115.24,418.33L114.22,417.77L113.24,418.07L112.23,419.26L111.15,420.39L110.04,420.55L108.94,422.52L107.91,422.9L106.97,423.79L106.19,424.13L105.6,425.4 Z" fill="#cccccc"/>
<path d="M105.6,425.4L106.22,424.17L107.13,422.68L108.13,422.01L109.42,420.58L110.44,420.02L111.63,418.95L113.24,417.59L114.34,417.33L115.65,417.23L117.06,416.68L118.47,415.94L119.78,415.66L120.88,415.51L122.44,414.48L123.57,414.52L124.7,413.7L126.11,413.37L127.53,412.69L128.52,411.88L128.52,411.88L128.98,413.89L129.59,416.15L130.08,418.67L130.81,421.15L132.27,422.59L133.87,422.98L135.2,423.13L136.16,422.7L136.16,422.7L136.48,419.57L137,415.84L137.67,412.66L138.53,409.17L139.68,406.72L140.9,405.16L141.98,404.11L142.88,404.41L143.47,404.23L143.8,404.98L143.8,404.98L144.16,408.22L144.72,412.33L145.34,416.33L146.24,419.44L146.94,420.65L149.38,421.63L150.37,421.88L151.62,421.9L153.06,421.35L154.65,421.81L156.32,421.95L158.02,421.57L159.68,421.85L161.24,421.61L162.66,421.33L163.87,421.7L164.81,421.55L166.73,421.18L166.72,421.5L166.72,421.5L167.12,417.49L167.71,412.52L168.43,407.96L169.24,402.53L169.94,399.92L171,397.72L172.2,394.97L173.7,393.31L175.43,390.51L176.62,389.98L177.95,388.76L179.34,387.33L180.72,386.13L182,385.09L183.47,383.7L184.86,383.07L186.21,381.54L187.58,380.78L188.96,379.3L190.33,378.55L191.7,377.55L193.08,377.01L194.47,375.52L195.87,375.06L197.26,374.22L198.66,373.2L200.04,372.08L201.41,371.56L202.78,370.64L204.16,369.76L205.53,369.33L206.91,368.8L208.28,367.95L209.66,366.98L211.03,366.09L212.4,365.39L213.78,364.04L215.16,362.99L216.55,362.33L217.95,362.05L219.34,361.53L220.73,360.18L222.14,359.63L223.56,359.15L224.94,358.05L226.24,357.47L227.83,356.64L229.31,356.15L230.67,355.3L232.49,354.51L233.95,354L234.92,354.85L235.48,355.72L235.48,355.72L235.76,363.64L236.17,374.08L236.65,384.99L237.24,394.17L237.93,398.51L238.84,400.59L239.94,402.83L241.67,404.43L242.77,404.34L244.11,405.09L245.56,405.77L247,405.66L248.32,406.17L249.79,406.3L251.19,406.61L252.53,406.89L253.82,407.1L255.58,407.82L257.25,407.84L258.4,408.28" fill="none" stroke="#000" stroke-width="1.9" stroke-linejoin="round"/>
<path d="M105.6,425.4C105.79,424.9 106.11,423.4 106.75,422.4C107.38,421.4 108.34,420.44 109.42,419.39C110.5,418.34 111.33,417.04 113.24,416.09C115.15,415.14 118.97,414.29 120.88,413.69C122.79,413.09 123.43,413.04 124.7,412.49C125.97,411.94 127.88,410.73 128.52,410.38L128.52,410.38C128.7,411.53 129.21,415.49 129.59,417.29C129.97,419.09 130.23,420.29 130.81,421.2C131.4,422.1 132.21,422.35 133.1,422.7C134,423.05 135.65,423.2 136.16,423.3L136.16,423.3C136.35,422.4 136.86,419.54 137.31,417.89C137.75,416.24 138.24,414.79 138.83,413.39C139.43,411.99 140.22,410.53 140.9,409.48C141.57,408.43 142.4,407.48 142.88,407.08C143.37,406.68 143.65,407.08 143.8,407.08L143.8,407.08C144,408.13 144.61,411.33 145.02,413.39C145.43,415.44 145.65,418.04 146.24,419.39C146.84,420.74 147.58,421.05 148.61,421.5C149.64,421.95 149.42,421.95 152.43,422.1C155.45,422.25 164.34,422.35 166.72,422.4L166.72,422.4C166.89,421.55 167.18,419.09 167.71,417.29C168.25,415.49 169.01,413.24 169.93,411.58C170.85,409.93 171.19,409.58 173.21,407.38C175.24,405.18 178.77,401.52 182.08,398.37C185.39,395.22 189.4,391.76 193.08,388.46C196.76,385.16 200.48,381.85 204.16,378.55C207.84,375.24 211.48,371.99 215.16,368.64C218.84,365.28 222.85,361.63 226.24,358.43C229.62,355.22 233.94,350.92 235.48,349.42L235.48,349.42C235.59,352.07 235.87,358.28 236.17,365.33C236.46,372.39 236.87,385.16 237.24,391.76C237.61,398.37 237.82,401.82 238.38,404.98C238.94,408.13 239.68,409.58 240.6,410.68C241.52,411.78 240.92,411.13 243.88,411.58C246.85,412.04 255.98,413.09 258.4,413.39" fill="none" stroke="#0072bd" stroke-width="1.9" stroke-linejoin="round"/>
</g>
<rect x="105.6" y="335.3" width="152.8" height="90.1" fill="none" stroke="#333333" stroke-width="0.9"/>
<path d="M105.6,425.4v-1.6M105.6,335.3v1.6M113.24,425.4v-1.6M113.24,335.3v1.6M120.88,425.4v-1.6M120.88,335.3v1.6M128.52,425.4v-1.6M128.52,335.3v1.6M136.16,425.4v-1.6M136.16,335.3v1.6M143.8,425.4v-1.6M143.8,335.3v1.6M151.44,425.4v-1.6M151.44,335.3v1.6M159.08,425.4v-1.6M159.08,335.3v1.6M166.72,425.4v-1.6M166.72,335.3v1.6M174.36,425.4v-1.6M174.36,335.3v1.6M182,425.4v-1.6M182,335.3v1.6M189.64,425.4v-1.6M189.64,335.3v1.6M197.28,425.4v-1.6M197.28,335.3v1.6M204.92,425.4v-1.6M204.92,335.3v1.6M212.56,425.4v-1.6M212.56,335.3v1.6M220.2,425.4v-1.6M220.2,335.3v1.6M227.84,425.4v-1.6M227.84,335.3v1.6M235.48,425.4v-1.6M235.48,335.3v1.6M243.12,425.4v-1.6M243.12,335.3v1.6M250.76,425.4v-1.6M250.76,335.3v1.6M258.4,425.4v-1.6M258.4,335.3v1.6M105.6,425.4h1.6M258.4,425.4h-1.6M105.6,419.39h1.6M258.4,419.39h-1.6M105.6,413.39h1.6M258.4,413.39h-1.6M105.6,407.38h1.6M258.4,407.38h-1.6M105.6,401.37h1.6M258.4,401.37h-1.6M105.6,395.37h1.6M258.4,395.37h-1.6M105.6,389.36h1.6M258.4,389.36h-1.6M105.6,383.35h1.6M258.4,383.35h-1.6M105.6,377.35h1.6M258.4,377.35h-1.6M105.6,371.34h1.6M258.4,371.34h-1.6M105.6,365.33h1.6M258.4,365.33h-1.6M105.6,359.33h1.6M258.4,359.33h-1.6M105.6,353.32h1.6M258.4,353.32h-1.6M105.6,347.31h1.6M258.4,347.31h-1.6M105.6,341.31h1.6M258.4,341.31h-1.6M105.6,335.3h1.6M258.4,335.3h-1.6" stroke="#555" stroke-width="0.7" fill="none"/>
<text x="105.6" y="438.9" font-size="10" text-anchor="middle">0</text>
<text x="143.8" y="438.9" font-size="10" text-anchor="middle">5</text>
<text x="182" y="438.9" font-size="10" text-anchor="middle">10</text>
<text x="220.2" y="438.9" font-size="10" text-anchor="middle">15</text>
<text x="258.4" y="438.9" font-size="10" text-anchor="middle">20</text>
<text x="102" y="429.3" font-size="10" text-anchor="end">0</text>
<text x="102" y="399.27" font-size="10" text-anchor="end">1</text>
<text x="102" y="369.23" font-size="10" text-anchor="end">2</text>
<text x="102" y="339.2" font-size="10" text-anchor="end">3</text>
<text x="160.09" y="450.8" font-size="10" textLength="44.18" lengthAdjust="spacingAndGlyphs">Time (min)</text>
<text x="108.23" y="348.7" font-size="10" font-weight="bold">H</text>
<text x="123.18" y="348.7" font-size="10">R</text>
<text x="130.57" y="344.2" font-size="6.6">2</text>
<text x="138.01" y="348.7" font-size="10">=</text>
<text x="146.42" y="348.7" font-size="10" textLength="34.78" lengthAdjust="spacingAndGlyphs">0.94075</text>
<g transform="translate(86.8,383.25) rotate(-90)"><text x="0" y="0" font-size="10" text-anchor="middle">NPQ</text><text x="11.9" y="5.0" font-size="7">&#964;</text></g>
<rect x="272.4" y="316.4" width="153.3" height="7.6" fill="#faf6d6"/>
<rect x="287.73" y="316.4" width="15.33" height="7.6" fill="#000"/>
<rect x="318.39" y="316.4" width="15.33" height="7.6" fill="#000"/>
<rect x="349.05" y="316.4" width="15.33" height="7.6" fill="#000"/>
<rect x="379.71" y="316.4" width="15.33" height="7.6" fill="#000"/>
<rect x="410.37" y="316.4" width="15.33" height="7.6" fill="#000"/>
<rect x="272.4" y="316.4" width="153.3" height="7.6" fill="none" stroke="#4a4a4a" stroke-width="1"/>
<clipPath id="cI"><rect x="272.4" y="335.3" width="153.3" height="90.1"/></clipPath>
<g clip-path="url(#cI)">
<path d="M272.4,425.4L273.09,424.13L274.08,422.04L275.18,420.75L276.23,418.6L277.1,418.5L277.91,416.69L278.84,417.2L280.06,415.99L280.89,415.17L281.89,414.74L283,414.22L284.14,414.38L285.25,414.45L286.26,412.67L287.11,413.34L287.73,412.79L287.73,412.79L288.3,415.99L289.26,420.73L289.89,421.95L290.68,422.47L292.33,422.93L293.14,422.71L294.16,423.11L295.32,423.83L296.58,423.35L297.89,424.06L299.17,422.96L300.39,424.01L301.48,423.75L302.39,423.43L303.06,423.6L303.06,423.6L303.94,420.64L305.36,415.8L306.32,414.23L307.44,413.22L308.61,411.44L309.73,409.43L310.74,408.31L311.7,406.74L312.68,405.88L313.71,404.27L314.68,403.21L315.76,401.69L316.82,401.53L317.74,400.02L318.39,399.87L318.39,399.87L318.96,407.53L319.92,415.2L320.55,417.72L321.34,417.93L322.99,420L323.72,419.92L324.62,419.8L325.65,419.54L326.78,419.68L327.95,420.53L329.14,420.15L330.29,419.65L331.36,420.52L332.32,420.54L333.12,419.49L333.72,419.99L333.72,419.99L334.82,410.8L336.25,399.9L337.06,396.45L337.88,393.75L338.86,392.89L339.7,391.4L340.62,389.99L341.66,388.18L342.84,387.95L343.82,386.43L344.98,384.6L346.19,382.65L347.36,381.9L348.35,380.16L349.05,379.15L349.05,379.15L349.67,393.5L350.58,409.53L351.59,414.24L352.88,416.15L353.64,415.52L354.46,417.09L355.45,416.87L356.71,416.22L357.54,416.84L358.54,416.34L359.65,416.69L360.79,415.71L361.9,416.33L362.91,416.63L363.76,416.88L364.38,416.39L364.38,416.39L364.92,405.87L365.84,393.15L366.68,387.6L367.7,382.98L368.83,379.72L369.75,377.4L370.76,377.27L371.79,376.45L372.81,375.16L373.83,374.57L374.87,374.27L375.88,373.06L376.8,372.43L377.96,372.31L378.99,371.4L379.71,370.74L379.71,370.74L380.26,388.17L381.24,407.57L382,412.69L382.96,414.32L384.69,416.13L385.49,416.23L386.49,415.41L387.62,416.69L388.83,415.95L390.08,417.19L391.31,416.73L392.48,416.39L393.52,416.66L394.39,415.7L395.04,416.39L395.04,416.39L395.81,401.72L397.03,387.86L397.81,384.76L398.71,381.91L399.67,381.21L400.64,380.62L401.56,380.18L402.49,379.38L403.49,377.52L404.62,376.47L405.54,375.85L406.62,374.93L407.74,373.84L408.81,372.57L409.72,371.54L410.37,370.74L410.37,370.74L411.04,388.63L411.9,407.51L412.04,411.83L413.51,412L414.2,411.65L415.07,411.53L416.1,412.96L417.24,412.38L418.46,412.85L419.71,413.75L420.95,414.16L422.15,413.35L423.26,414.6L424.25,414.85L425.08,415.06L425.7,414.59 L425.7,424.5L425.08,424.6L424.25,424.47L423.26,424.03L422.15,424.76L420.95,423.61L419.71,424.45L418.46,423.26L417.24,423.97L416.1,423.83L415.07,423.62L414.2,423.89L413.51,423.6L412.04,422.89L411.9,420.66L411.04,413.71L410.37,405.58L410.37,405.58L409.77,405.23L408.95,405.16L407.97,405.36L406.89,405.61L405.75,406.55L404.62,406.35L403.58,407.44L402.42,406.44L401.2,407.14L399.99,407.98L398.85,407.13L397.84,408.46L397.03,410.2L395.56,417.03L395.04,423L395.04,423L394.39,422.93L393.52,423.13L392.48,422.36L391.31,422.27L390.08,423.35L388.83,423.25L387.62,422.76L386.49,423.17L385.49,422.88L384.69,422.63L382.96,422.38L382,421.35L381.24,419.45L380.26,412.5L379.71,405.58L379.71,405.58L379.08,406.29L378.21,406.1L377.19,405.39L376.07,406.31L374.92,406.6L373.81,405.53L372.81,406.72L371.72,406.79L370.62,407.18L369.54,406.61L368.53,407.56L367.61,407.76L366.83,409.06L365.23,415.74L364.38,421.8L364.38,421.8L363.73,422.01L362.86,421.81L361.82,422.04L360.66,421.06L359.41,422.4L358.13,421.94L356.87,421.84L355.67,421.69L354.57,422.03L353.63,422.01L352.88,421.45L351.11,421.18L350.58,419.24L349.67,413.91L349.05,409.78L349.05,409.78L348.35,409.21L347.36,409.52L346.19,410.06L344.98,410.02L343.82,410.59L342.84,410.67L341.66,411.44L340.62,412.3L339.7,411.26L338.86,412.78L337.88,413.41L337.06,415.47L336.25,416.99L334.82,420.4L333.72,423.3L333.72,423.3L333.12,422.7L332.32,423.49L331.36,423.6L330.29,422.74L329.14,422.85L327.95,423.19L326.78,422.7L325.65,423.74L324.62,422.78L323.72,422.56L322.99,422.46L321.34,422.65L320.55,420.86L319.92,420.07L318.96,414.13L318.39,408.28L318.39,408.28L317.74,409.21L316.82,409.53L315.76,411.35L314.68,412.17L313.71,412.74L312.68,412.9L311.7,414.32L310.74,414.74L309.73,415.41L308.61,417.28L307.44,417.9L306.32,418.81L305.36,420.78L303.94,422.81L303.06,425.1L303.06,425.1L302.39,425.73L301.48,425.1L300.39,424.78L299.17,424.57L297.89,425.65L296.58,425.32L295.32,425.17L294.16,425.64L293.14,424.93L292.33,425L290.68,424.84L289.89,424.35L289.26,422.49L288.3,418.89L287.73,415.49L287.73,415.49L287.11,416.14L286.26,416.06L285.25,417.45L284.14,417.66L283,418.14L281.89,418.77L280.89,418.66L280.06,418.87L278.84,420.6L277.91,420.65L277.1,421.12L276.23,422.13L275.18,423.45L274.08,423.93L273.09,424.25L272.4,425.4 Z" fill="#cccccc"/>
<path d="M272.4,425.4L273.02,424.52L273.93,423.56L274.94,422.34L276.23,420.96L277.4,420.2L278.73,418.79L280.06,418.05L281.34,417.44L282.62,416.84L283.9,416.63L285.32,415.99L286.74,415.15L287.73,414.29L287.73,414.29L288.13,415.74L288.65,418.2L289.09,419.8L289.65,421.92L290.43,422.84L291.56,423.19L292.56,423.25L293.76,423.62L295.39,423.61L296.54,423.72L297.95,423.81L299.47,423.32L300.93,423.32L302.18,423.65L303.06,423.6L303.06,423.6L303.36,423.03L303.83,421.23L304.4,419.78L305.13,417.71L305.98,416.43L307.12,415.19L308.2,413.61L309.45,412.94L310.72,411.27L311.99,410.87L313.27,409.85L314.56,409.24L315.98,408.17L317.4,406.98L318.39,406.48L318.39,406.48L318.79,409.46L319.31,412.76L319.74,415.54L320.31,417.94L321.13,419.35L322.3,420.79L323.28,420.9L324.45,421.21L326.06,421.49L327.19,421.24L328.6,421.22L330.12,421.69L331.59,421.33L332.84,421.37L333.72,421.5L333.72,421.5L333.99,420.26L334.33,417.69L334.55,415.64L334.87,412.36L335.43,409.43L336.25,406.97L337.39,404.61L338.86,402.46L340,401.22L341.3,400.04L342.84,398.46L344.38,397.36L346.19,395.78L347.88,394.65L349.05,394.17L349.05,394.17L349.45,399.14L349.97,405.7L350.4,408.8L350.97,411.59L351.78,415.37L352.96,417.56L354.01,418.81L355.29,419.31L356.94,419.43L358.33,419.5L360.03,420.09L361.78,420.17L363.31,420.2L364.38,420.29L364.38,420.29L364.55,414.29L364.84,407.65L365.18,403.22L365.84,399.92L367.14,396.81L368.83,394.11L370.08,393.66L371.45,392.51L372.81,391.96L374.18,391.21L375.55,390.77L376.8,390.88L378.5,390.14L379.71,389.66L379.71,389.66L380.19,395.71L380.78,403.37L381.12,408.74L381.7,413.72L382.88,416.09L384.69,418.27L386.01,418.55L387.6,418.98L389.22,419.3L390.67,419.37L392.41,420.09L393.97,419.76L395.04,420.29L395.04,420.29L395.46,413.81L395.96,407.27L396.19,404.7L396.57,403.31L397.4,401.89L398.64,400.66L399.83,399.72L401.23,398.97L402.63,398.4L403.94,397.52L405.24,396.91L406.54,395.8L407.96,394.89L409.38,393.82L410.37,393.26L410.37,393.26L410.82,399.53L411.52,407.29L412.28,412.07L413.51,415.54L414.5,416.87L415.68,417.57L417.02,417.62L418.49,418.2L419.91,418.8L421.56,419.14L423.23,419.77L424.68,420.16L425.7,419.99" fill="none" stroke="#000" stroke-width="1.9" stroke-linejoin="round"/>
<path d="M272.4,425.4C272.78,424.8 274.06,422.85 274.7,421.8C275.34,420.74 275.34,419.99 276.23,419.09C277.13,418.19 278.79,417.09 280.06,416.39C281.34,415.69 282.62,415.44 283.9,414.89C285.17,414.34 287.09,413.39 287.73,413.09L287.73,413.09C287.87,413.84 288.25,416.14 288.57,417.59C288.89,419.04 289.21,420.84 289.65,421.8C290.08,422.75 290.04,422.9 291.18,423.3C292.32,423.7 294.49,424 296.47,424.2C298.45,424.4 301.96,424.45 303.06,424.5L303.06,424.5C303.17,423.9 303.4,422.15 303.75,420.89C304.09,419.64 304.57,418.19 305.13,416.99C305.69,415.79 306.36,414.69 307.12,413.69C307.89,412.69 308.63,411.88 309.73,410.98C310.83,410.08 312.27,409.18 313.71,408.28C315.16,407.38 317.61,406.03 318.39,405.58L318.39,405.58C318.54,406.73 318.99,410.38 319.31,412.49C319.63,414.59 319.81,416.79 320.31,418.19C320.8,419.59 321.4,420.24 322.3,420.89C323.19,421.55 323.77,421.85 325.67,422.1C327.58,422.35 332.38,422.35 333.72,422.4L333.72,422.4C333.81,421.6 333.95,419.24 334.26,417.59C334.56,415.94 335.01,414.04 335.56,412.49C336.11,410.93 336.77,409.63 337.55,408.28C338.33,406.93 339.14,405.78 340.24,404.38C341.33,402.98 342.68,401.37 344.14,399.87C345.61,398.37 348.23,396.12 349.05,395.37L349.05,395.37C349.2,397.07 349.65,402.57 349.97,405.58C350.29,408.58 350.47,411.38 350.97,413.39C351.46,415.39 351.96,416.59 352.96,417.59C353.96,418.59 355.04,418.94 356.94,419.39C358.85,419.84 363.14,420.14 364.38,420.29L364.38,420.29C364.46,418.84 364.43,414.39 364.84,411.58C365.25,408.78 366,405.48 366.83,403.48C367.66,401.47 368.83,400.87 369.82,399.57C370.82,398.27 371.65,397.17 372.81,395.67C373.97,394.17 375.65,391.96 376.8,390.56C377.95,389.16 379.22,387.81 379.71,387.26L379.71,387.26C379.89,389.31 380.45,395.52 380.78,399.57C381.12,403.63 381.22,408.78 381.7,411.58C382.19,414.39 382.7,415.24 383.7,416.39C384.69,417.54 385.79,418.04 387.68,418.49C389.57,418.94 393.81,418.99 395.04,419.09L395.04,419.09C395.24,416.84 395.67,408.98 396.27,405.58C396.87,402.17 397.58,400.97 398.64,398.67C399.7,396.37 401.31,393.92 402.63,391.76C403.94,389.61 405.25,387.81 406.54,385.76C407.83,383.7 409.73,380.5 410.37,379.45L410.37,379.45C410.56,382.8 411.16,394.42 411.52,399.57C411.88,404.73 412.02,407.88 412.52,410.38C413.01,412.89 413.51,413.74 414.51,414.59C415.51,415.44 416.63,415.19 418.49,415.49C420.36,415.79 424.5,416.24 425.7,416.39" fill="none" stroke="#0072bd" stroke-width="1.9" stroke-linejoin="round"/>
</g>
<rect x="272.4" y="335.3" width="153.3" height="90.1" fill="none" stroke="#333333" stroke-width="0.9"/>
<path d="M272.4,425.4v-1.6M272.4,335.3v1.6M280.06,425.4v-1.6M280.06,335.3v1.6M287.73,425.4v-1.6M287.73,335.3v1.6M295.39,425.4v-1.6M295.39,335.3v1.6M303.06,425.4v-1.6M303.06,335.3v1.6M310.72,425.4v-1.6M310.72,335.3v1.6M318.39,425.4v-1.6M318.39,335.3v1.6M326.06,425.4v-1.6M326.06,335.3v1.6M333.72,425.4v-1.6M333.72,335.3v1.6M341.38,425.4v-1.6M341.38,335.3v1.6M349.05,425.4v-1.6M349.05,335.3v1.6M356.71,425.4v-1.6M356.71,335.3v1.6M364.38,425.4v-1.6M364.38,335.3v1.6M372.04,425.4v-1.6M372.04,335.3v1.6M379.71,425.4v-1.6M379.71,335.3v1.6M387.38,425.4v-1.6M387.38,335.3v1.6M395.04,425.4v-1.6M395.04,335.3v1.6M402.7,425.4v-1.6M402.7,335.3v1.6M410.37,425.4v-1.6M410.37,335.3v1.6M418.03,425.4v-1.6M418.03,335.3v1.6M425.7,425.4v-1.6M425.7,335.3v1.6M272.4,425.4h1.6M425.7,425.4h-1.6M272.4,419.39h1.6M425.7,419.39h-1.6M272.4,413.39h1.6M425.7,413.39h-1.6M272.4,407.38h1.6M425.7,407.38h-1.6M272.4,401.37h1.6M425.7,401.37h-1.6M272.4,395.37h1.6M425.7,395.37h-1.6M272.4,389.36h1.6M425.7,389.36h-1.6M272.4,383.35h1.6M425.7,383.35h-1.6M272.4,377.35h1.6M425.7,377.35h-1.6M272.4,371.34h1.6M425.7,371.34h-1.6M272.4,365.33h1.6M425.7,365.33h-1.6M272.4,359.33h1.6M425.7,359.33h-1.6M272.4,353.32h1.6M425.7,353.32h-1.6M272.4,347.31h1.6M425.7,347.31h-1.6M272.4,341.31h1.6M425.7,341.31h-1.6M272.4,335.3h1.6M425.7,335.3h-1.6" stroke="#555" stroke-width="0.7" fill="none"/>
<text x="272.4" y="438.9" font-size="10" text-anchor="middle">0</text>
<text x="310.72" y="438.9" font-size="10" text-anchor="middle">5</text>
<text x="349.05" y="438.9" font-size="10" text-anchor="middle">10</text>
<text x="387.38" y="438.9" font-size="10" text-anchor="middle">15</text>
<text x="425.7" y="438.9" font-size="10" text-anchor="middle">20</text>
<text x="268.8" y="429.3" font-size="10" text-anchor="end">0</text>
<text x="268.8" y="399.27" font-size="10" text-anchor="end">1</text>
<text x="268.8" y="369.23" font-size="10" text-anchor="end">2</text>
<text x="268.8" y="339.2" font-size="10" text-anchor="end">3</text>
<text x="327.14" y="450.8" font-size="10" textLength="44.18" lengthAdjust="spacingAndGlyphs">Time (min)</text>
<text x="278.93" y="348.7" font-size="10" font-weight="bold">I</text>
<text x="290.58" y="348.7" font-size="10">R</text>
<text x="297.97" y="344.2" font-size="6.6">2</text>
<text x="305.21" y="348.7" font-size="10">=</text>
<text x="313.62" y="348.7" font-size="10" textLength="34.8" lengthAdjust="spacingAndGlyphs">0.88606</text>
<rect x="439.9" y="316.4" width="152.8" height="7.6" fill="#faf6d6"/>
<rect x="447.54" y="316.4" width="30.56" height="7.6" fill="#000"/>
<rect x="531.58" y="316.4" width="38.2" height="7.6" fill="#000"/>
<rect x="577.42" y="316.4" width="15.28" height="7.6" fill="#000"/>
<rect x="439.9" y="316.4" width="152.8" height="7.6" fill="none" stroke="#4a4a4a" stroke-width="1"/>
<clipPath id="cJ"><rect x="439.9" y="335.3" width="152.8" height="90.1"/></clipPath>
<g clip-path="url(#cJ)">
<path d="M439.9,425.4L440.59,424.96L441.57,423.31L442.68,421.27L443.72,418.67L444.76,418.24L445.87,417.94L446.85,417.47L447.54,416.39L447.54,416.39L448.11,419.61L449.07,422.23L449.12,422.69L449.35,422.56L452.12,422.91L452.73,422.82L453.44,422.24L454.24,423L455.12,422.99L456.07,422.04L457.09,422.79L458.16,422.27L459.28,422.79L460.44,422.17L461.63,423.2L462.84,422.8L464.07,421.91L465.3,422.76L466.53,422.24L467.76,422.88L468.96,423.03L470.13,422.55L471.27,422.49L472.37,423.12L473.41,422.37L474.39,422.53L475.3,422.62L476.14,422.01L476.89,421.82L477.55,422.54L478.1,422.4L478.1,422.4L478.59,421.8L479.42,419.81L481.08,418.4L481.85,418.34L482.79,417.72L483.86,417.64L485.02,416.56L486.23,416.27L487.45,415.34L488.64,415.68L489.75,415.54L490.76,413.88L491.62,413.86L492.88,412.77L493.74,412.19L494.46,411.51L495.3,411.43L496.51,409.84L497.3,409.72L498.18,409.52L499.12,409.33L500.12,408.87L501.16,408.09L502.23,407.35L503.31,406.73L504.38,405.69L505.43,404.58L506.44,404.58L507.45,403.84L508.49,404.22L509.53,402.57L510.58,402.2L511.63,401.22L512.65,401.25L513.65,400.2L514.61,399.8L515.52,398.81L516.38,398.77L517.64,397.28L518.74,396.34L519.75,396L520.73,395.21L521.74,394.08L522.87,393.54L523.84,392.21L524.92,391.58L526.06,391.53L527.2,390.56L528.3,390.79L529.3,389.01L530.16,388.95L530.82,389.47L531.69,389.19L531.58,388.76L531.58,388.76L532.11,398.62L532.88,409.96L533.68,414.94L534.87,417.43L535.17,418.41L535.26,418.35L536.23,417.8L539.22,418.3L539.85,419.2L540.56,418.97L541.35,419.16L542.22,418L543.15,418.04L544.14,417.93L545.19,418.68L546.29,418.85L547.42,419.24L548.6,418.95L549.8,418.81L551.02,418.75L552.27,418.82L553.52,418.23L554.77,418.03L556.03,418.74L557.27,418.08L558.5,418.86L559.71,418.89L560.89,418.09L562.03,419.15L563.14,419.16L564.2,417.78L565.2,418.55L566.15,418.64L567.03,418.09L567.84,417.91L568.58,418.69L569.22,418.03L569.78,418.49L569.78,418.49L570.35,413.83L571.31,406.8L572.21,405.17L573.29,403.51L574.36,402.7L575.5,401.51L576.63,400.25L577.42,399.57L577.42,399.57L578.04,406.81L578.95,413.15L579.47,415.42L581.24,417.61L581.98,417.09L582.92,417.48L584.01,417.53L585.21,417.36L586.47,417.84L587.75,417.35L588.99,418.37L590.15,417.59L591.19,417.82L592.05,418.33L592.7,417.89 L592.7,423L592.05,423.26L591.19,423.47L590.15,422.73L588.99,423.23L587.75,422.8L586.47,422.72L585.21,423.04L584.01,423.78L582.92,423.7L581.98,422.38L581.24,423.46L579.47,422.26L578.95,421.19L578.04,414.07L577.42,408.58L577.42,408.58L576.63,409.13L575.5,408.79L574.36,410.41L573.29,412.55L572.21,414.16L571.31,416.3L570.35,419.33L569.78,423L569.78,423L569.22,422.53L568.58,422.42L567.84,423.18L567.03,423.63L566.15,423L565.2,423.63L564.2,422.39L563.14,423.32L562.03,422.57L560.89,422.51L559.71,422.55L558.5,422.98L557.27,422.43L556.03,423.07L554.77,423.7L553.52,423.26L552.27,422.61L551.02,423.34L549.8,422.41L548.6,422.43L547.42,423.26L546.29,423.07L545.19,422.58L544.14,422.3L543.15,422.46L542.22,422.35L541.35,422.83L540.56,423.05L539.85,423.23L539.22,423.01L536.23,422.66L535.26,422.97L535.17,423.33L534.87,421.66L533.68,421.8L532.88,417.51L532.11,409.12L531.58,401.67L531.58,401.67L531.69,402.07L530.82,401.46L530.16,401.37L529.3,403.16L528.3,403.99L527.2,403.96L526.06,404.37L524.92,405.64L523.84,405.91L522.87,405.86L521.74,406.68L520.73,406.78L519.75,407.78L518.74,407.88L517.64,407.68L516.38,408.51L515.52,409.64L514.61,409.05L513.65,410.25L512.65,409.42L511.63,410.04L510.58,410.75L509.53,411.34L508.49,411.83L507.45,411.49L506.44,413.18L505.43,413.61L504.38,413.18L503.31,413.67L502.23,414.21L501.16,414.03L500.12,415.07L499.12,415.94L498.18,414.93L497.3,415.36L496.51,416.32L495.3,416.97L494.46,417.95L493.74,417.49L492.88,418.51L491.62,419.93L490.76,419.65L489.75,419.5L488.64,420.78L487.45,420.31L486.23,421.41L485.02,421.63L483.86,421.09L482.79,422.24L481.85,422.24L481.08,423.12L479.42,423.62L478.59,424.56L478.1,424.5L478.1,424.5L477.55,424.4L476.89,424.7L476.14,424.41L475.3,424.79L474.39,424.92L473.41,423.86L472.37,424.68L471.27,424.28L470.13,423.97L468.96,423.87L467.76,424.08L466.53,424.51L465.3,424.54L464.07,425.19L462.84,424.7L461.63,425L460.44,424.01L459.28,425.25L458.16,424.69L457.09,424.12L456.07,425.08L455.12,424.25L454.24,423.84L453.44,424.8L452.73,424.26L452.12,424.18L449.35,423.9L449.12,423.49L449.07,422.64L448.11,421.24L447.54,418.49L447.54,418.49L446.85,418.81L445.87,419.23L444.76,420.61L443.72,421.5L442.68,422.29L441.57,422.96L440.59,425.08L439.9,425.4 Z" fill="#cccccc"/>
<path d="M439.9,425.4L440.74,424.18L441.81,422.59L442.65,421.68L443.72,420.5L444.99,419.22L446.48,418.03L447.54,417.29L447.54,417.29L447.97,419.06L448.69,420.81L449.6,422.41L450.9,423.07L451.91,424L453.15,423.61L455.18,423.61L456.27,423.87L457.54,423.84L458.95,423.59L460.46,424.19L462.03,424.22L463.61,423.91L465.16,423.74L466.64,423.87L468.15,423.91L469.77,423.95L471.44,423.93L473.09,423.63L474.64,424.21L476.04,423.79L477.22,424.19L478.1,423.9L478.1,423.9L478.5,423.54L479.09,423.47L479.71,421.66L480.7,420.42L481.74,419.52L483.04,419.06L484.67,418.16L485.9,418.13L487.34,417.71L488.85,417.31L490.32,417.05L491.62,416.07L492.87,415.84L493.88,415.25L494.98,414.43L496.51,413.23L497.67,412.6L498.98,412.33L500.42,411.56L501.92,411.55L503.46,410.5L504.98,409.97L506.44,409.69L507.89,409L509.38,407.89L510.88,406.96L512.36,405.96L513.79,404.87L515.14,404.39L516.38,403.65L517.87,402.83L519.15,402.39L520.33,401.7L521.53,401.07L522.87,400.64L524.19,399.98L525.68,398.64L527.2,398.14L528.65,396.68L529.89,396.09L530.82,395.86L531.69,396.02L531.58,396.27L531.58,396.27L532.11,404.2L532.88,413.73L533.7,417.18L534.87,419.37L535.68,420.12L536.71,420.84L538.84,420.73L539.81,421.17L540.92,421.02L542.16,420.83L543.5,421.16L544.93,421.53L546.43,421.53L547.97,421.45L549.53,421.19L551.11,421.25L552.67,421.57L554.03,421.45L555.53,421.64L557.11,421.54L558.76,421.67L560.43,421.22L562.09,421.62L563.7,421.66L565.22,421.43L566.63,421.71L567.88,421.78L568.94,421.54L569.78,421.5L569.78,421.5L570.04,418.76L570.54,415.58L571.46,411.33L572.53,407.53L573.47,406.03L574.52,405.74L576.09,404.39L577.42,403.48L577.42,403.48L577.87,409.23L578.57,415.82L578.83,418.23L580.48,419.16L581.45,419.88L582.73,419.74L584.24,420.43L585.87,420.32L587.54,420.52L589.15,420.49L590.61,421.07L591.82,421.08L592.7,420.89" fill="none" stroke="#000" stroke-width="1.9" stroke-linejoin="round"/>
<path d="M439.9,425.4C440.22,424.75 441.17,422.55 441.81,421.5C442.45,420.44 442.76,420.09 443.72,419.09C444.67,418.09 446.9,416.09 447.54,415.49L447.54,415.49C447.71,416.29 448.14,418.99 448.53,420.29C448.93,421.6 449.18,422.5 449.91,423.3C450.63,424.1 448.19,424.75 452.89,425.1C457.59,425.45 473.9,425.35 478.1,425.4L478.1,425.4C478.27,424.55 478.6,421.8 479.09,420.29C479.59,418.79 480.15,417.54 481.08,416.39C482.01,415.24 482.91,414.39 484.67,413.39C486.43,412.39 489.65,411.18 491.62,410.38C493.6,409.58 494.04,409.88 496.51,408.58C498.98,407.28 503.13,404.93 506.44,402.57C509.76,400.22 513.64,396.77 516.38,394.47C519.11,392.16 520.34,391.21 522.87,388.76C525.4,386.31 530.13,381.25 531.58,379.75L531.58,379.75C531.72,382.4 532.14,391.06 532.42,395.67C532.7,400.27 532.93,404.43 533.26,407.38C533.59,410.33 533.82,411.94 534.41,413.39C534.99,414.84 535.39,415.49 536.78,416.09C538.16,416.69 540.09,416.69 542.73,416.99C545.38,417.29 548.16,417.54 552.67,417.89C557.17,418.24 566.93,418.89 569.78,419.09L569.78,419.09C569.91,417.84 570.09,414.34 570.54,411.58C571,408.83 571.87,404.93 572.53,402.57C573.19,400.22 573.7,399.02 574.52,397.47C575.33,395.92 576.94,393.97 577.42,393.26L577.42,393.26C577.53,395.32 577.76,402.02 578.11,405.58C578.45,409.13 578.92,412.59 579.48,414.59C580.04,416.59 579.27,416.94 581.47,417.59C583.67,418.24 590.83,418.34 592.7,418.49" fill="none" stroke="#0072bd" stroke-width="1.9" stroke-linejoin="round"/>
</g>
<rect x="439.9" y="335.3" width="152.8" height="90.1" fill="none" stroke="#333333" stroke-width="0.9"/>
<path d="M439.9,425.4v-1.6M439.9,335.3v1.6M447.54,425.4v-1.6M447.54,335.3v1.6M455.18,425.4v-1.6M455.18,335.3v1.6M462.82,425.4v-1.6M462.82,335.3v1.6M470.46,425.4v-1.6M470.46,335.3v1.6M478.1,425.4v-1.6M478.1,335.3v1.6M485.74,425.4v-1.6M485.74,335.3v1.6M493.38,425.4v-1.6M493.38,335.3v1.6M501.02,425.4v-1.6M501.02,335.3v1.6M508.66,425.4v-1.6M508.66,335.3v1.6M516.3,425.4v-1.6M516.3,335.3v1.6M523.94,425.4v-1.6M523.94,335.3v1.6M531.58,425.4v-1.6M531.58,335.3v1.6M539.22,425.4v-1.6M539.22,335.3v1.6M546.86,425.4v-1.6M546.86,335.3v1.6M554.5,425.4v-1.6M554.5,335.3v1.6M562.14,425.4v-1.6M562.14,335.3v1.6M569.78,425.4v-1.6M569.78,335.3v1.6M577.42,425.4v-1.6M577.42,335.3v1.6M585.06,425.4v-1.6M585.06,335.3v1.6M592.7,425.4v-1.6M592.7,335.3v1.6M439.9,425.4h1.6M592.7,425.4h-1.6M439.9,419.39h1.6M592.7,419.39h-1.6M439.9,413.39h1.6M592.7,413.39h-1.6M439.9,407.38h1.6M592.7,407.38h-1.6M439.9,401.37h1.6M592.7,401.37h-1.6M439.9,395.37h1.6M592.7,395.37h-1.6M439.9,389.36h1.6M592.7,389.36h-1.6M439.9,383.35h1.6M592.7,383.35h-1.6M439.9,377.35h1.6M592.7,377.35h-1.6M439.9,371.34h1.6M592.7,371.34h-1.6M439.9,365.33h1.6M592.7,365.33h-1.6M439.9,359.33h1.6M592.7,359.33h-1.6M439.9,353.32h1.6M592.7,353.32h-1.6M439.9,347.31h1.6M592.7,347.31h-1.6M439.9,341.31h1.6M592.7,341.31h-1.6M439.9,335.3h1.6M592.7,335.3h-1.6" stroke="#555" stroke-width="0.7" fill="none"/>
<text x="439.9" y="438.9" font-size="10" text-anchor="middle">0</text>
<text x="478.1" y="438.9" font-size="10" text-anchor="middle">5</text>
<text x="516.3" y="438.9" font-size="10" text-anchor="middle">10</text>
<text x="554.5" y="438.9" font-size="10" text-anchor="middle">15</text>
<text x="592.7" y="438.9" font-size="10" text-anchor="middle">20</text>
<text x="436.3" y="429.3" font-size="10" text-anchor="end">0</text>
<text x="436.3" y="399.27" font-size="10" text-anchor="end">1</text>
<text x="436.3" y="369.23" font-size="10" text-anchor="end">2</text>
<text x="436.3" y="339.2" font-size="10" text-anchor="end">3</text>
<text x="494.39" y="450.8" font-size="10" textLength="44.18" lengthAdjust="spacingAndGlyphs">Time (min)</text>
<text x="444.75" y="348.7" font-size="10" font-weight="bold">J</text>
<text x="457.88" y="348.7" font-size="10">R</text>
<text x="465.27" y="344.2" font-size="6.6">2</text>
<text x="472.51" y="348.7" font-size="10">=</text>
<text x="480.93" y="348.7" font-size="10" textLength="34.13" lengthAdjust="spacingAndGlyphs">0.46821</text>
</svg></body></html>
